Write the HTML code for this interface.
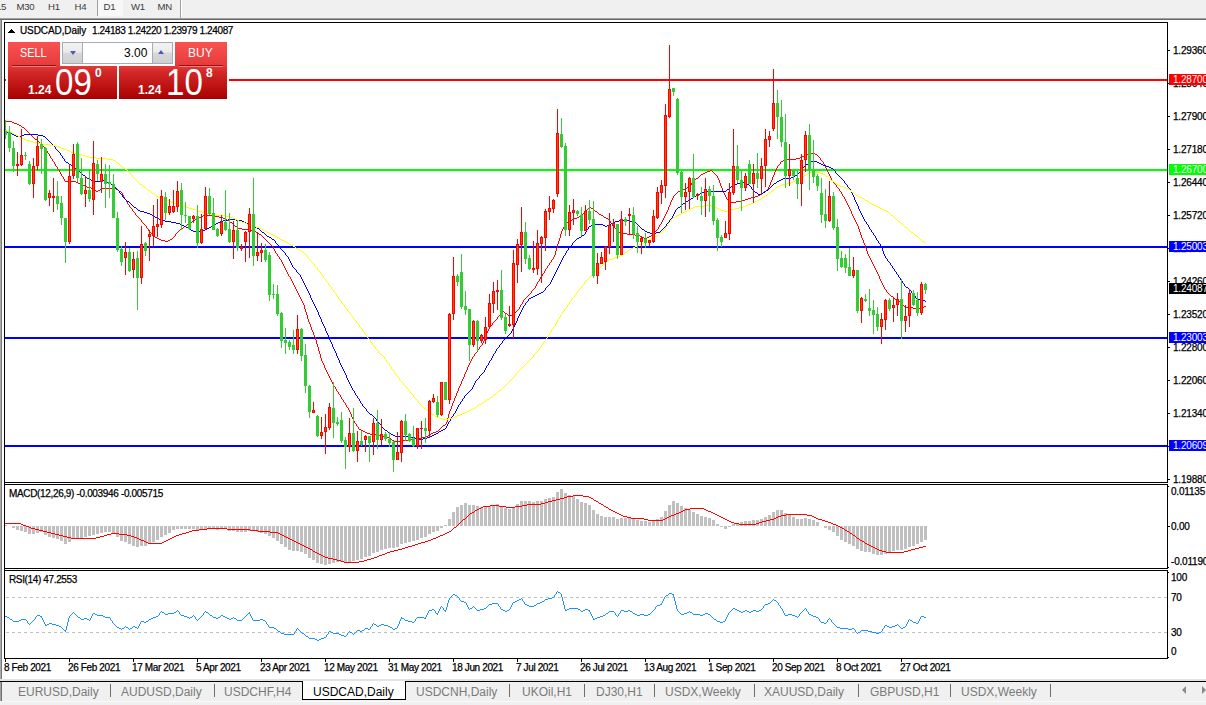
<!DOCTYPE html><html><head><meta charset="utf-8"><title>USDCAD,Daily</title><style>
*{margin:0;padding:0;box-sizing:border-box}
html,body{width:1206px;height:705px;overflow:hidden;background:#fff}
body{position:relative;font-family:"Liberation Sans",sans-serif;font-size:11px;color:#000}
.abs{position:absolute}
.t{position:absolute;white-space:nowrap;line-height:1}
#toolbar{left:0;top:0;width:1206px;height:18px;background:#f0f0f0}
.tb{position:absolute;top:1px;font-size:9.6px;color:#3c3c3c;line-height:12px;white-space:nowrap;letter-spacing:-0.3px}
.ax{position:absolute;left:1173px;-webkit-text-stroke:0.25px #000;font-size:10px;line-height:11px;white-space:nowrap;letter-spacing:-0.2px}
.lab{position:absolute;left:1169px;width:37px;height:11px;color:#fff;font-size:10px;line-height:11px;padding-left:4px;white-space:nowrap;overflow:hidden;letter-spacing:-0.2px}
.dt{position:absolute;top:662px;-webkit-text-stroke:0.25px #000;font-size:10px;line-height:11px;white-space:nowrap;letter-spacing:-0.37px}
.tab{position:absolute;top:685px;font-size:12px;line-height:14px;color:#7a7a7a;white-space:nowrap}
.sep{position:absolute;top:684px;width:1px;height:13px;background:#6e6e6e}
</style></head><body>
<div class="abs" id="toolbar"></div>
<div class="abs" style="left:0;top:18px;width:1206px;height:1px;background:#a0a0a0"></div>
<div class="abs" style="left:0;top:19px;width:1206px;height:1px;background:#696969"></div>
<div class="abs" style="left:98px;top:0;width:25px;height:16px;background:#f8f8f8"></div>
<div class="abs" style="left:97px;top:0;width:1px;height:16px;background:#a0a0a0"></div>
<div class="abs" style="left:180px;top:0;width:1px;height:18px;background:#a0a0a0"></div>
<div class="abs" style="left:181px;top:0;width:1px;height:18px;background:#fff"></div>
<div class="tb" style="left:-4px">15</div>
<div class="tb" style="left:16.5px">M30</div>
<div class="tb" style="left:48px">H1</div>
<div class="tb" style="left:74.5px">H4</div>
<div class="tb" style="left:103.5px">D1</div>
<div class="tb" style="left:131px">W1</div>
<div class="tb" style="left:157.5px">MN</div>
<div class="abs" style="left:0;top:20px;width:2px;height:660px;background:linear-gradient(90deg,#ababab 0,#ababab 50%,#787878 50%)"></div>
<svg class="abs" style="left:0;top:0" width="1206" height="705" viewBox="0 0 1206 705" shape-rendering="crispEdges">
<rect x="1168" y="50" width="2" height="1" fill="#000"/>
<rect x="1168" y="83" width="2" height="1" fill="#000"/>
<rect x="1168" y="116" width="2" height="1" fill="#000"/>
<rect x="1168" y="149" width="2" height="1" fill="#000"/>
<rect x="1168" y="182" width="2" height="1" fill="#000"/>
<rect x="1168" y="215" width="2" height="1" fill="#000"/>
<rect x="1168" y="248" width="2" height="1" fill="#000"/>
<rect x="1168" y="281" width="2" height="1" fill="#000"/>
<rect x="1168" y="314" width="2" height="1" fill="#000"/>
<rect x="1168" y="347" width="2" height="1" fill="#000"/>
<rect x="1168" y="380" width="2" height="1" fill="#000"/>
<rect x="1168" y="413" width="2" height="1" fill="#000"/>
<rect x="1168" y="446" width="2" height="1" fill="#000"/>
<rect x="1168" y="479" width="2" height="1" fill="#000"/>
<rect x="1168" y="526" width="2" height="1" fill="#000"/>
<rect x="1168" y="486" width="1" height="1" fill="#000"/>
<rect x="1168" y="567" width="1" height="1" fill="#000"/>
<rect x="1168" y="572" width="1" height="1" fill="#000"/>
<rect x="1168" y="657" width="1" height="1" fill="#000"/>
<rect x="5" y="659" width="1" height="3" fill="#000"/>
<rect x="69" y="659" width="1" height="3" fill="#000"/>
<rect x="133" y="659" width="1" height="3" fill="#000"/>
<rect x="197" y="659" width="1" height="3" fill="#000"/>
<rect x="261" y="659" width="1" height="3" fill="#000"/>
<rect x="325" y="659" width="1" height="3" fill="#000"/>
<rect x="389" y="659" width="1" height="3" fill="#000"/>
<rect x="453" y="659" width="1" height="3" fill="#000"/>
<rect x="517" y="659" width="1" height="3" fill="#000"/>
<rect x="581" y="659" width="1" height="3" fill="#000"/>
<rect x="645" y="659" width="1" height="3" fill="#000"/>
<rect x="709" y="659" width="1" height="3" fill="#000"/>
<rect x="773" y="659" width="1" height="3" fill="#000"/>
<rect x="837" y="659" width="1" height="3" fill="#000"/>
<rect x="901" y="659" width="1" height="3" fill="#000"/>
<rect x="5" y="79" width="1162" height="2" fill="#ff0000"/>
<rect x="5" y="169" width="1162" height="2" fill="#00ff00"/>
<rect x="5" y="246" width="1162" height="2" fill="#0000ff"/>
<rect x="5" y="337" width="1162" height="2" fill="#0000ff"/>
<rect x="5" y="445" width="1162" height="2" fill="#0000ff"/>
<path fill="#ff0000" d="M5 121h7v1h-7zM12 122h2v1h-2zM14 123h3v1h-3zM17 124h2v1h-2zM19 125h2v1h-2zM21 126h1v1h-1zM22 127h2v1h-2zM24 128h1v1h-1zM25 129h1v1h-1zM26 130h1v1h-1zM27 131h1v1h-1zM28 132h1v1h-1zM29 133h1v1h-1zM30 134h1v1h-1zM31 135h1v1h-1zM32 136h1v1h-1zM33 137h1v1h-1zM34 138h1v1h-1zM35 139h2v1h-2zM37 140h1v1h-1zM38 141h1v1h-1zM39 142h1v1h-1zM40 143h1v1h-1zM41 144h1v1h-1zM42 145h1v1h-1zM43 146h1v1h-1zM44 147h1v1h-1zM45 148h1v1h-1zM46 149h1v2h-1zM47 151h1v2h-1zM48 153h1v1h-1zM809 153h6v1h-6zM806 154h3v1h-3zM815 154h2v1h-2zM49 154h1v2h-1zM804 155h2v1h-2zM817 155h1v1h-1zM802 156h2v1h-2zM818 156h1v1h-1zM50 156h1v2h-1zM800 157h2v1h-2zM819 157h1v1h-1zM51 158h1v1h-1zM796 158h4v1h-4zM820 158h1v2h-1zM785 159h11v1h-11zM52 159h1v2h-1zM783 160h2v1h-2zM821 160h1v1h-1zM53 161h1v1h-1zM781 161h2v1h-2zM822 161h1v1h-1zM54 162h1v2h-1zM780 162h1v2h-1zM823 162h1v2h-1zM779 164h1v1h-1zM55 164h1v2h-1zM824 164h1v2h-1zM778 165h1v1h-1zM56 166h1v1h-1zM777 166h1v2h-1zM825 166h1v2h-1zM57 167h1v2h-1zM776 168h1v2h-1zM826 168h1v2h-1zM58 169h1v1h-1zM710 170h2v1h-2zM59 170h1v2h-1zM775 170h1v2h-1zM827 170h1v2h-1zM707 171h3v1h-3zM712 171h1v1h-1zM705 172h2v1h-2zM713 172h1v1h-1zM60 172h1v2h-1zM828 172h1v2h-1zM774 172h1v3h-1zM703 173h2v1h-2zM714 173h1v1h-1zM701 174h2v1h-2zM715 174h1v1h-1zM61 174h1v2h-1zM829 174h1v2h-1zM700 175h1v1h-1zM716 175h1v1h-1zM773 175h1v2h-1zM62 176h1v1h-1zM699 176h1v1h-1zM717 176h1v2h-1zM830 176h1v2h-1zM698 177h1v1h-1zM63 177h1v2h-1zM772 177h1v3h-1zM696 178h2v1h-2zM718 178h1v2h-1zM831 178h1v2h-1zM695 179h1v1h-1zM64 179h1v2h-1zM694 180h1v1h-1zM832 180h1v1h-1zM771 180h1v2h-1zM719 180h1v3h-1zM65 181h11v1h-11zM693 181h1v1h-1zM833 181h1v2h-1zM76 182h2v1h-2zM692 182h1v1h-1zM770 182h1v3h-1zM78 183h3v1h-3zM834 183h1v1h-1zM691 183h1v2h-1zM720 183h1v3h-1zM81 184h2v1h-2zM835 184h1v1h-1zM83 185h2v1h-2zM690 185h1v1h-1zM769 185h1v2h-1zM836 185h1v2h-1zM85 186h2v1h-2zM689 186h1v1h-1zM721 186h1v2h-1zM87 187h4v1h-4zM687 187h2v1h-2zM837 187h1v1h-1zM768 187h1v2h-1zM91 188h2v1h-2zM102 188h14v1h-14zM685 188h2v1h-2zM838 188h1v1h-1zM722 188h1v3h-1zM93 189h2v1h-2zM100 189h2v1h-2zM116 189h2v1h-2zM682 189h3v1h-3zM767 189h1v1h-1zM839 189h1v2h-1zM95 190h1v1h-1zM98 190h2v1h-2zM118 190h1v1h-1zM680 190h2v1h-2zM766 190h1v1h-1zM96 191h2v1h-2zM119 191h2v1h-2zM678 191h2v1h-2zM764 191h2v1h-2zM840 191h1v1h-1zM723 191h1v2h-1zM121 192h1v1h-1zM677 192h1v1h-1zM763 192h1v1h-1zM841 192h1v2h-1zM676 193h1v1h-1zM762 193h1v1h-1zM122 193h1v2h-1zM724 193h1v2h-1zM675 194h1v1h-1zM760 194h2v1h-2zM842 194h1v2h-1zM674 195h1v1h-1zM758 195h2v1h-2zM123 195h1v2h-1zM725 195h1v2h-1zM755 196h3v1h-3zM843 196h1v1h-1zM673 196h1v2h-1zM751 197h4v1h-4zM124 197h1v2h-1zM726 197h1v2h-1zM844 197h1v2h-1zM748 198h3v1h-3zM672 198h1v2h-1zM125 199h1v1h-1zM727 199h1v1h-1zM745 199h3v1h-3zM845 199h1v2h-1zM728 200h2v1h-2zM741 200h4v1h-4zM126 200h1v2h-1zM671 200h1v2h-1zM730 201h1v1h-1zM736 201h5v1h-5zM846 201h1v2h-1zM731 202h5v1h-5zM127 202h1v2h-1zM670 202h1v3h-1zM847 203h1v2h-1zM128 204h1v1h-1zM129 205h1v2h-1zM669 205h1v2h-1zM848 205h1v2h-1zM130 207h1v1h-1zM589 207h2v1h-2zM849 207h1v2h-1zM668 207h1v3h-1zM131 208h1v1h-1zM588 208h1v1h-1zM591 208h2v1h-2zM587 209h1v1h-1zM593 209h1v1h-1zM132 209h1v2h-1zM850 209h1v2h-1zM586 210h1v1h-1zM594 210h1v1h-1zM667 210h1v2h-1zM133 211h1v1h-1zM585 211h1v1h-1zM595 211h2v1h-2zM851 211h1v3h-1zM134 212h1v1h-1zM584 212h1v1h-1zM597 212h1v1h-1zM666 212h1v2h-1zM583 213h1v1h-1zM598 213h1v1h-1zM135 213h1v2h-1zM582 214h1v1h-1zM599 214h2v1h-2zM665 214h1v2h-1zM852 214h1v2h-1zM136 215h1v1h-1zM203 215h10v1h-10zM580 215h2v1h-2zM601 215h2v1h-2zM137 216h1v1h-1zM201 216h2v1h-2zM213 216h6v1h-6zM579 216h1v1h-1zM603 216h1v1h-1zM664 216h1v2h-1zM853 216h1v2h-1zM138 217h1v1h-1zM199 217h2v1h-2zM219 217h4v1h-4zM577 217h2v1h-2zM604 217h2v1h-2zM139 218h1v1h-1zM197 218h2v1h-2zM223 218h2v1h-2zM574 218h3v1h-3zM606 218h2v1h-2zM663 218h1v2h-1zM854 218h1v2h-1zM140 219h1v1h-1zM195 219h2v1h-2zM225 219h2v1h-2zM572 219h2v1h-2zM608 219h1v1h-1zM193 220h2v1h-2zM227 220h2v1h-2zM570 220h2v1h-2zM609 220h1v1h-1zM141 220h1v2h-1zM662 220h1v2h-1zM855 220h1v2h-1zM192 221h1v1h-1zM229 221h1v1h-1zM568 221h2v1h-2zM610 221h1v2h-1zM142 222h1v1h-1zM190 222h2v1h-2zM230 222h2v1h-2zM567 222h1v1h-1zM661 222h1v2h-1zM856 222h1v2h-1zM143 223h1v1h-1zM189 223h1v1h-1zM232 223h1v1h-1zM611 223h1v1h-1zM566 223h1v2h-1zM144 224h1v1h-1zM187 224h2v1h-2zM233 224h1v1h-1zM612 224h1v1h-1zM660 224h1v1h-1zM857 224h1v2h-1zM145 225h1v1h-1zM186 225h1v1h-1zM234 225h1v1h-1zM565 225h1v1h-1zM613 225h1v1h-1zM659 225h1v2h-1zM184 226h2v1h-2zM235 226h2v1h-2zM564 226h1v1h-1zM146 226h1v2h-1zM614 226h1v2h-1zM858 226h1v3h-1zM183 227h1v1h-1zM237 227h1v1h-1zM563 227h1v2h-1zM658 227h1v2h-1zM147 228h1v1h-1zM182 228h1v1h-1zM238 228h4v1h-4zM615 228h1v1h-1zM180 229h2v1h-2zM242 229h9v1h-9zM657 229h1v1h-1zM148 229h1v2h-1zM562 229h1v2h-1zM616 229h1v2h-1zM859 229h1v3h-1zM179 230h1v1h-1zM251 230h3v1h-3zM656 230h1v1h-1zM149 231h1v1h-1zM178 231h1v1h-1zM254 231h2v1h-2zM617 231h2v1h-2zM655 231h1v1h-1zM561 231h1v3h-1zM150 232h1v1h-1zM177 232h1v1h-1zM256 232h2v1h-2zM619 232h2v1h-2zM654 232h1v1h-1zM860 232h1v3h-1zM151 233h1v1h-1zM176 233h1v1h-1zM258 233h1v1h-1zM621 233h6v1h-6zM653 233h1v1h-1zM152 234h1v1h-1zM259 234h2v1h-2zM627 234h8v1h-8zM652 234h1v1h-1zM175 234h1v2h-1zM560 234h1v4h-1zM153 235h1v1h-1zM261 235h1v1h-1zM635 235h5v1h-5zM651 235h1v1h-1zM861 235h1v3h-1zM154 236h1v1h-1zM174 236h1v1h-1zM262 236h1v1h-1zM640 236h2v1h-2zM649 236h2v1h-2zM155 237h2v1h-2zM173 237h1v1h-1zM263 237h1v1h-1zM642 237h2v1h-2zM647 237h2v1h-2zM157 238h2v1h-2zM172 238h1v1h-1zM264 238h1v1h-1zM644 238h3v1h-3zM862 238h1v2h-1zM559 238h1v3h-1zM159 239h2v1h-2zM170 239h2v1h-2zM265 239h1v1h-1zM161 240h4v1h-4zM168 240h2v1h-2zM266 240h1v1h-1zM863 240h1v3h-1zM165 241h3v1h-3zM267 241h1v1h-1zM558 241h1v3h-1zM268 242h1v1h-1zM269 243h1v1h-1zM864 243h1v2h-1zM270 244h1v1h-1zM557 244h1v4h-1zM271 245h1v1h-1zM865 245h1v3h-1zM272 246h1v1h-1zM273 247h1v2h-1zM556 248h1v3h-1zM866 248h1v3h-1zM274 249h1v2h-1zM275 251h1v2h-1zM867 251h1v3h-1zM555 251h1v4h-1zM276 253h1v1h-1zM277 254h1v2h-1zM868 254h1v2h-1zM554 255h1v2h-1zM278 256h1v1h-1zM869 256h1v2h-1zM279 257h1v2h-1zM553 257h1v2h-1zM870 258h1v2h-1zM280 259h1v1h-1zM552 259h1v1h-1zM281 260h1v2h-1zM551 260h1v2h-1zM871 260h1v2h-1zM550 262h1v1h-1zM282 262h1v2h-1zM872 262h1v2h-1zM549 263h1v2h-1zM283 264h1v2h-1zM873 264h1v2h-1zM548 265h1v1h-1zM284 266h1v2h-1zM547 266h1v2h-1zM874 266h1v2h-1zM546 268h1v1h-1zM285 268h1v2h-1zM875 268h1v2h-1zM545 269h1v2h-1zM286 270h1v2h-1zM876 270h1v2h-1zM544 271h1v2h-1zM287 272h1v2h-1zM877 272h1v2h-1zM543 273h1v1h-1zM288 274h1v2h-1zM542 274h1v2h-1zM878 274h1v2h-1zM289 276h1v1h-1zM541 276h1v1h-1zM879 276h1v3h-1zM290 277h1v2h-1zM540 277h1v2h-1zM291 279h1v2h-1zM539 279h1v2h-1zM880 279h1v2h-1zM538 281h1v1h-1zM292 281h1v2h-1zM881 281h1v2h-1zM537 282h1v2h-1zM293 283h1v2h-1zM882 283h1v2h-1zM536 284h1v2h-1zM294 285h1v2h-1zM883 285h1v2h-1zM535 286h1v2h-1zM295 287h1v2h-1zM884 287h1v2h-1zM534 288h1v1h-1zM533 289h1v1h-1zM885 289h1v1h-1zM296 289h1v2h-1zM532 290h1v1h-1zM886 290h1v2h-1zM297 291h1v2h-1zM531 291h1v2h-1zM887 292h1v1h-1zM530 293h1v1h-1zM888 293h1v1h-1zM298 293h1v2h-1zM529 294h1v1h-1zM889 294h1v1h-1zM528 295h1v1h-1zM890 295h1v1h-1zM299 295h1v2h-1zM527 296h1v1h-1zM891 296h2v1h-2zM526 297h1v1h-1zM893 297h1v1h-1zM300 297h1v2h-1zM525 298h1v1h-1zM894 298h1v1h-1zM524 299h1v1h-1zM895 299h2v1h-2zM301 299h1v2h-1zM897 300h2v1h-2zM523 300h1v2h-1zM899 301h1v1h-1zM302 301h1v2h-1zM900 302h1v1h-1zM522 302h1v2h-1zM901 303h1v1h-1zM303 303h1v2h-1zM521 304h1v1h-1zM902 304h1v1h-1zM903 305h1v1h-1zM520 305h1v2h-1zM304 305h1v4h-1zM904 306h2v1h-2zM924 306h2v1h-2zM906 307h7v1h-7zM921 307h3v1h-3zM519 307h1v2h-1zM913 308h8v1h-8zM518 309h1v1h-1zM305 309h1v3h-1zM517 310h1v1h-1zM503 311h1v1h-1zM516 311h1v1h-1zM502 312h1v1h-1zM504 312h1v1h-1zM515 312h1v1h-1zM306 312h1v3h-1zM501 313h1v1h-1zM505 313h2v1h-2zM514 313h1v1h-1zM500 314h1v1h-1zM507 314h1v1h-1zM513 314h1v1h-1zM499 315h1v1h-1zM508 315h5v1h-5zM307 315h1v4h-1zM498 316h1v1h-1zM497 317h1v2h-1zM496 319h1v1h-1zM308 319h1v3h-1zM495 320h1v1h-1zM494 321h1v1h-1zM493 322h1v1h-1zM309 322h1v2h-1zM492 323h1v2h-1zM310 324h1v3h-1zM491 325h1v1h-1zM490 326h1v1h-1zM489 327h1v2h-1zM311 327h1v3h-1zM488 329h1v2h-1zM312 330h1v2h-1zM487 331h1v2h-1zM313 332h1v3h-1zM486 333h1v3h-1zM314 335h1v2h-1zM485 336h1v3h-1zM315 337h1v3h-1zM484 339h1v2h-1zM316 340h1v4h-1zM483 341h1v2h-1zM482 343h1v2h-1zM317 344h1v3h-1zM481 345h1v1h-1zM480 346h1v1h-1zM479 347h1v2h-1zM318 347h1v4h-1zM478 349h1v1h-1zM477 350h1v2h-1zM319 351h1v3h-1zM476 352h1v1h-1zM475 353h1v1h-1zM474 354h1v2h-1zM320 354h1v4h-1zM473 356h1v1h-1zM472 357h1v2h-1zM321 358h1v3h-1zM471 359h1v2h-1zM322 361h1v2h-1zM470 361h1v2h-1zM323 363h1v2h-1zM469 363h1v2h-1zM468 365h1v2h-1zM324 365h1v3h-1zM467 367h1v3h-1zM325 368h1v2h-1zM326 370h1v2h-1zM466 370h1v2h-1zM327 372h1v2h-1zM465 372h1v2h-1zM328 374h1v2h-1zM464 374h1v3h-1zM329 376h1v2h-1zM463 377h1v2h-1zM330 378h1v2h-1zM462 379h1v2h-1zM331 380h1v2h-1zM461 381h1v3h-1zM332 382h1v2h-1zM333 384h1v2h-1zM460 384h1v2h-1zM334 386h1v1h-1zM459 386h1v2h-1zM335 387h1v2h-1zM458 388h1v3h-1zM336 389h1v2h-1zM337 391h1v1h-1zM457 391h1v2h-1zM338 392h1v2h-1zM456 393h1v3h-1zM339 394h1v1h-1zM340 395h1v2h-1zM455 396h1v2h-1zM341 397h1v2h-1zM454 398h1v3h-1zM342 399h1v1h-1zM343 400h1v2h-1zM453 401h1v2h-1zM344 402h1v1h-1zM345 403h1v2h-1zM452 403h1v3h-1zM346 405h1v2h-1zM451 406h1v3h-1zM347 407h1v1h-1zM348 408h1v2h-1zM450 409h1v2h-1zM349 410h1v2h-1zM449 411h1v3h-1zM350 412h1v2h-1zM351 414h1v3h-1zM448 414h1v4h-1zM352 417h1v2h-1zM447 418h1v4h-1zM353 419h1v2h-1zM354 421h1v2h-1zM446 422h1v2h-1zM355 423h1v1h-1zM445 424h1v1h-1zM356 424h1v2h-1zM443 425h2v1h-2zM357 426h1v1h-1zM442 426h1v1h-1zM441 427h1v1h-1zM358 427h1v2h-1zM440 428h1v1h-1zM359 429h2v1h-2zM439 429h1v1h-1zM361 430h2v1h-2zM438 430h1v1h-1zM363 431h2v1h-2zM436 431h2v1h-2zM365 432h2v1h-2zM433 432h3v1h-3zM367 433h3v1h-3zM431 433h2v1h-2zM370 434h8v1h-8zM429 434h2v1h-2zM378 435h4v1h-4zM428 435h1v1h-1zM382 436h4v1h-4zM426 436h2v1h-2zM386 437h3v1h-3zM422 437h4v1h-4zM389 438h2v1h-2zM415 438h7v1h-7zM391 439h1v1h-1zM409 439h6v1h-6zM392 440h2v1h-2zM403 440h6v1h-6zM394 441h9v1h-9z"/>
<path fill="#0000ff" d="M5 131h2v1h-2zM7 132h3v1h-3zM10 133h2v1h-2zM12 134h2v1h-2zM24 134h14v1h-14zM14 135h2v1h-2zM22 135h2v1h-2zM38 135h5v1h-5zM16 136h6v1h-6zM43 136h2v1h-2zM45 137h1v1h-1zM46 138h1v1h-1zM47 139h1v1h-1zM48 140h1v1h-1zM49 141h1v1h-1zM50 142h1v1h-1zM51 143h1v1h-1zM52 144h1v1h-1zM53 145h1v1h-1zM54 146h1v1h-1zM55 147h1v2h-1zM56 149h1v1h-1zM57 150h1v1h-1zM58 151h1v1h-1zM59 152h1v1h-1zM60 153h1v2h-1zM61 155h1v1h-1zM62 156h1v2h-1zM63 158h1v1h-1zM64 159h1v2h-1zM65 161h1v1h-1zM810 161h7v1h-7zM66 162h2v1h-2zM809 162h1v1h-1zM817 162h2v1h-2zM68 163h1v1h-1zM808 163h1v1h-1zM819 163h2v1h-2zM69 164h2v1h-2zM806 164h2v1h-2zM821 164h2v1h-2zM71 165h1v1h-1zM805 165h1v1h-1zM823 165h3v1h-3zM72 166h1v1h-1zM804 166h1v1h-1zM826 166h3v1h-3zM73 167h2v1h-2zM803 167h1v1h-1zM829 167h2v1h-2zM75 168h1v1h-1zM802 168h1v1h-1zM831 168h2v1h-2zM76 169h1v1h-1zM801 169h1v1h-1zM833 169h1v1h-1zM77 170h1v1h-1zM834 170h1v1h-1zM800 170h1v2h-1zM78 171h2v1h-2zM835 171h1v2h-1zM80 172h1v1h-1zM799 172h1v1h-1zM81 173h1v1h-1zM798 173h1v1h-1zM836 173h1v1h-1zM82 174h1v1h-1zM797 174h1v1h-1zM837 174h1v1h-1zM83 175h2v1h-2zM795 175h2v1h-2zM838 175h1v1h-1zM85 176h1v1h-1zM793 176h2v1h-2zM839 176h1v1h-1zM86 177h1v1h-1zM791 177h2v1h-2zM840 177h1v1h-1zM87 178h2v1h-2zM783 178h8v1h-8zM841 178h1v1h-1zM89 179h2v1h-2zM781 179h2v1h-2zM842 179h1v1h-1zM91 180h4v1h-4zM100 180h5v1h-5zM779 180h2v1h-2zM843 180h1v1h-1zM95 181h5v1h-5zM105 181h2v1h-2zM777 181h2v1h-2zM844 181h1v2h-1zM107 182h2v1h-2zM740 182h4v1h-4zM776 182h1v1h-1zM109 183h2v1h-2zM737 183h3v1h-3zM744 183h3v1h-3zM774 183h2v1h-2zM845 183h1v1h-1zM111 184h1v1h-1zM735 184h2v1h-2zM747 184h2v1h-2zM773 184h1v1h-1zM846 184h1v1h-1zM112 185h1v1h-1zM733 185h2v1h-2zM749 185h1v1h-1zM772 185h1v1h-1zM847 185h1v2h-1zM113 186h2v1h-2zM731 186h2v1h-2zM750 186h1v1h-1zM771 186h1v1h-1zM115 187h1v1h-1zM730 187h1v1h-1zM770 187h1v1h-1zM848 187h1v1h-1zM751 187h1v2h-1zM116 188h1v1h-1zM729 188h1v1h-1zM769 188h1v1h-1zM849 188h1v1h-1zM117 189h1v1h-1zM727 189h2v1h-2zM752 189h1v1h-1zM768 189h1v1h-1zM850 189h1v2h-1zM118 190h1v1h-1zM726 190h1v1h-1zM753 190h1v1h-1zM766 190h2v1h-2zM704 191h22v1h-22zM754 191h1v1h-1zM765 191h1v1h-1zM119 191h1v2h-1zM851 191h1v2h-1zM702 192h2v1h-2zM755 192h2v1h-2zM763 192h2v1h-2zM120 193h1v1h-1zM700 193h2v1h-2zM757 193h1v1h-1zM761 193h2v1h-2zM852 193h1v2h-1zM121 194h1v1h-1zM698 194h2v1h-2zM758 194h3v1h-3zM696 195h2v1h-2zM122 195h1v2h-1zM853 195h1v2h-1zM694 196h2v1h-2zM123 197h1v1h-1zM693 197h1v1h-1zM854 197h1v3h-1zM124 198h1v1h-1zM691 198h2v1h-2zM125 199h1v1h-1zM689 199h2v1h-2zM126 200h1v1h-1zM688 200h1v1h-1zM855 200h1v2h-1zM127 201h2v1h-2zM686 201h2v1h-2zM129 202h1v1h-1zM685 202h1v1h-1zM856 202h1v2h-1zM130 203h1v1h-1zM683 203h2v1h-2zM131 204h1v1h-1zM682 204h1v1h-1zM857 204h1v2h-1zM132 205h1v1h-1zM681 205h1v1h-1zM133 206h1v1h-1zM680 206h1v1h-1zM858 206h1v3h-1zM134 207h2v1h-2zM678 207h2v1h-2zM136 208h1v1h-1zM677 208h1v1h-1zM137 209h1v1h-1zM676 209h1v1h-1zM859 209h1v2h-1zM138 210h2v1h-2zM675 210h1v2h-1zM140 211h4v1h-4zM860 211h1v2h-1zM144 212h3v1h-3zM674 212h1v2h-1zM147 213h3v1h-3zM861 213h1v2h-1zM150 214h2v1h-2zM673 214h1v2h-1zM152 215h1v1h-1zM862 215h1v2h-1zM153 216h2v1h-2zM672 216h1v2h-1zM155 217h2v1h-2zM863 217h1v2h-1zM157 218h2v1h-2zM671 218h1v1h-1zM159 219h2v1h-2zM228 219h8v1h-8zM670 219h1v1h-1zM864 219h1v2h-1zM161 220h4v1h-4zM223 220h5v1h-5zM236 220h6v1h-6zM619 220h11v1h-11zM669 220h1v2h-1zM165 221h6v1h-6zM220 221h3v1h-3zM242 221h2v1h-2zM615 221h4v1h-4zM630 221h4v1h-4zM865 221h1v1h-1zM171 222h5v1h-5zM218 222h2v1h-2zM244 222h2v1h-2zM613 222h2v1h-2zM634 222h2v1h-2zM668 222h1v1h-1zM866 222h1v2h-1zM176 223h4v1h-4zM216 223h2v1h-2zM246 223h3v1h-3zM611 223h2v1h-2zM636 223h1v1h-1zM667 223h1v1h-1zM180 224h2v1h-2zM214 224h2v1h-2zM249 224h2v1h-2zM594 224h9v1h-9zM609 224h2v1h-2zM637 224h1v1h-1zM867 224h1v1h-1zM666 224h1v2h-1zM182 225h2v1h-2zM213 225h1v1h-1zM251 225h2v1h-2zM591 225h3v1h-3zM603 225h2v1h-2zM607 225h2v1h-2zM638 225h1v1h-1zM868 225h1v2h-1zM184 226h2v1h-2zM211 226h2v1h-2zM253 226h2v1h-2zM589 226h2v1h-2zM605 226h2v1h-2zM639 226h1v1h-1zM665 226h1v1h-1zM186 227h2v1h-2zM209 227h2v1h-2zM255 227h2v1h-2zM640 227h1v1h-1zM664 227h1v1h-1zM588 227h1v2h-1zM869 227h1v2h-1zM188 228h1v1h-1zM207 228h2v1h-2zM257 228h2v1h-2zM641 228h1v1h-1zM663 228h1v1h-1zM189 229h2v1h-2zM205 229h2v1h-2zM259 229h1v1h-1zM587 229h1v1h-1zM642 229h2v1h-2zM662 229h1v1h-1zM870 229h1v1h-1zM191 230h2v1h-2zM202 230h3v1h-3zM260 230h1v1h-1zM644 230h1v1h-1zM661 230h1v1h-1zM586 230h1v2h-1zM871 230h1v2h-1zM193 231h9v1h-9zM261 231h1v1h-1zM645 231h2v1h-2zM660 231h1v1h-1zM262 232h2v1h-2zM647 232h3v1h-3zM656 232h4v1h-4zM872 232h1v1h-1zM585 232h1v2h-1zM264 233h1v1h-1zM650 233h6v1h-6zM873 233h1v2h-1zM265 234h1v1h-1zM584 234h1v1h-1zM266 235h1v1h-1zM582 235h2v1h-2zM874 235h1v1h-1zM267 236h2v1h-2zM581 236h1v1h-1zM875 236h1v2h-1zM269 237h2v1h-2zM579 237h2v1h-2zM271 238h1v1h-1zM577 238h2v1h-2zM876 238h1v2h-1zM272 239h2v1h-2zM576 239h1v1h-1zM274 240h1v1h-1zM575 240h1v1h-1zM877 240h1v1h-1zM574 241h1v1h-1zM275 241h1v2h-1zM878 241h1v2h-1zM573 242h1v1h-1zM276 243h1v1h-1zM879 243h1v1h-1zM572 243h1v2h-1zM277 244h1v1h-1zM880 244h1v2h-1zM571 245h1v1h-1zM278 245h1v2h-1zM570 246h1v1h-1zM881 246h1v2h-1zM279 247h1v1h-1zM569 247h1v1h-1zM280 248h1v1h-1zM568 248h1v2h-1zM882 248h1v3h-1zM281 249h1v1h-1zM282 250h1v1h-1zM567 250h1v1h-1zM283 251h1v1h-1zM566 251h1v2h-1zM883 251h1v3h-1zM284 252h1v1h-1zM285 253h1v2h-1zM565 253h1v2h-1zM884 254h1v2h-1zM286 255h1v1h-1zM564 255h1v1h-1zM287 256h1v1h-1zM563 256h1v2h-1zM885 256h1v2h-1zM288 257h1v2h-1zM886 258h1v1h-1zM562 258h1v2h-1zM289 259h1v2h-1zM887 259h1v2h-1zM561 260h1v2h-1zM888 261h1v1h-1zM290 261h1v2h-1zM889 262h1v1h-1zM560 262h1v2h-1zM291 263h1v2h-1zM890 263h1v2h-1zM559 264h1v2h-1zM891 265h1v1h-1zM292 265h1v2h-1zM558 266h1v2h-1zM892 266h1v2h-1zM293 267h1v1h-1zM294 268h1v1h-1zM893 268h1v1h-1zM557 268h1v2h-1zM295 269h1v1h-1zM894 269h1v2h-1zM296 270h1v2h-1zM556 270h1v2h-1zM895 271h1v1h-1zM297 272h1v1h-1zM555 272h1v2h-1zM896 272h1v2h-1zM298 273h1v1h-1zM299 274h1v1h-1zM897 274h1v1h-1zM554 274h1v2h-1zM300 275h1v2h-1zM898 275h1v2h-1zM553 276h1v2h-1zM899 277h1v1h-1zM301 277h1v2h-1zM552 278h1v2h-1zM900 278h1v2h-1zM302 279h1v2h-1zM901 280h1v1h-1zM551 280h1v2h-1zM303 281h1v2h-1zM902 281h1v2h-1zM550 282h1v2h-1zM903 283h1v1h-1zM304 283h1v2h-1zM549 284h1v1h-1zM904 284h1v2h-1zM548 285h1v1h-1zM305 285h1v2h-1zM547 286h1v1h-1zM905 286h1v1h-1zM546 287h1v1h-1zM906 287h2v1h-2zM306 287h1v2h-1zM908 288h1v1h-1zM545 288h1v2h-1zM909 289h1v1h-1zM307 289h1v2h-1zM544 290h1v1h-1zM910 290h1v1h-1zM543 291h1v1h-1zM308 291h1v2h-1zM911 291h1v2h-1zM541 292h2v1h-2zM539 293h2v1h-2zM912 293h1v1h-1zM309 293h1v2h-1zM537 294h2v1h-2zM913 294h1v1h-1zM535 295h2v1h-2zM914 295h1v1h-1zM310 295h1v3h-1zM533 296h2v1h-2zM915 296h1v2h-1zM531 297h2v1h-2zM529 298h2v1h-2zM916 298h1v1h-1zM311 298h1v2h-1zM917 299h6v1h-6zM528 299h1v2h-1zM923 300h2v1h-2zM312 300h1v2h-1zM527 301h1v1h-1zM925 301h1v1h-1zM526 302h1v1h-1zM313 302h1v2h-1zM525 303h1v2h-1zM314 304h1v2h-1zM524 305h1v1h-1zM315 306h1v2h-1zM523 306h1v2h-1zM316 308h1v2h-1zM522 308h1v2h-1zM317 310h1v2h-1zM521 310h1v2h-1zM520 312h1v2h-1zM318 312h1v3h-1zM519 314h1v2h-1zM319 315h1v2h-1zM518 316h1v2h-1zM320 317h1v2h-1zM517 318h1v3h-1zM321 319h1v3h-1zM516 321h1v2h-1zM322 322h1v2h-1zM515 323h1v2h-1zM323 324h1v2h-1zM514 325h1v2h-1zM324 326h1v2h-1zM513 327h1v2h-1zM325 328h1v3h-1zM512 329h1v2h-1zM326 331h1v2h-1zM511 331h1v2h-1zM510 333h1v1h-1zM327 333h1v2h-1zM509 334h1v1h-1zM508 335h1v1h-1zM328 335h1v2h-1zM507 336h1v1h-1zM506 337h1v1h-1zM329 337h1v3h-1zM505 338h1v1h-1zM504 339h1v1h-1zM503 340h1v1h-1zM330 340h1v2h-1zM502 341h1v2h-1zM331 342h1v2h-1zM501 343h1v1h-1zM500 344h1v1h-1zM332 344h1v3h-1zM499 345h1v2h-1zM498 347h1v1h-1zM333 347h1v2h-1zM497 348h1v1h-1zM334 349h1v2h-1zM496 349h1v2h-1zM335 351h1v2h-1zM495 351h1v2h-1zM494 353h1v1h-1zM336 353h1v3h-1zM493 354h1v2h-1zM337 356h1v2h-1zM492 356h1v2h-1zM338 358h1v2h-1zM491 358h1v2h-1zM490 360h1v1h-1zM339 360h1v3h-1zM489 361h1v2h-1zM340 363h1v2h-1zM488 363h1v2h-1zM487 365h1v1h-1zM341 365h1v2h-1zM486 366h1v2h-1zM342 367h1v2h-1zM485 368h1v2h-1zM343 369h1v2h-1zM484 370h1v2h-1zM344 371h1v2h-1zM483 372h1v1h-1zM482 373h1v1h-1zM345 373h1v2h-1zM481 374h1v1h-1zM480 375h1v1h-1zM346 375h1v3h-1zM479 376h1v2h-1zM478 378h1v1h-1zM347 378h1v2h-1zM477 379h1v1h-1zM476 380h1v1h-1zM348 380h1v2h-1zM475 381h1v2h-1zM349 382h1v2h-1zM474 383h1v2h-1zM350 384h1v2h-1zM473 385h1v2h-1zM351 386h1v2h-1zM472 387h1v2h-1zM352 388h1v2h-1zM471 389h1v1h-1zM353 390h1v1h-1zM470 390h1v1h-1zM469 391h1v1h-1zM354 391h1v2h-1zM468 392h1v1h-1zM467 393h1v1h-1zM355 393h1v2h-1zM466 394h1v1h-1zM356 395h1v1h-1zM465 395h1v1h-1zM357 396h1v2h-1zM464 396h1v2h-1zM358 398h1v1h-1zM463 398h1v1h-1zM359 399h1v2h-1zM462 399h1v2h-1zM461 401h1v1h-1zM360 401h1v2h-1zM460 402h1v2h-1zM361 403h1v1h-1zM459 404h1v1h-1zM362 404h1v2h-1zM458 405h1v2h-1zM363 406h1v1h-1zM364 407h1v1h-1zM457 407h1v2h-1zM365 408h1v1h-1zM366 409h1v2h-1zM456 409h1v2h-1zM367 411h1v1h-1zM455 411h1v2h-1zM368 412h1v1h-1zM369 413h1v1h-1zM454 413h1v1h-1zM370 414h2v1h-2zM453 414h1v2h-1zM372 415h1v1h-1zM373 416h1v1h-1zM452 416h1v1h-1zM374 417h1v1h-1zM451 417h1v2h-1zM375 418h1v1h-1zM376 419h1v2h-1zM450 419h1v2h-1zM377 421h1v1h-1zM449 421h1v1h-1zM378 422h1v1h-1zM448 422h1v2h-1zM379 423h1v1h-1zM380 424h1v1h-1zM447 424h1v2h-1zM381 425h1v2h-1zM446 426h1v2h-1zM382 427h1v1h-1zM383 428h1v1h-1zM445 428h1v1h-1zM384 429h1v1h-1zM443 429h2v1h-2zM385 430h2v1h-2zM441 430h2v1h-2zM387 431h1v1h-1zM439 431h2v1h-2zM388 432h1v1h-1zM438 432h1v1h-1zM389 433h2v1h-2zM436 433h2v1h-2zM391 434h2v1h-2zM434 434h2v1h-2zM393 435h2v1h-2zM432 435h2v1h-2zM395 436h14v1h-14zM430 436h2v1h-2zM409 437h6v1h-6zM427 437h3v1h-3zM415 438h4v1h-4zM423 438h4v1h-4zM419 439h4v1h-4z"/>
<path fill="#ffff00" d="M5 130h2v1h-2zM7 131h2v1h-2zM9 132h3v1h-3zM12 133h2v1h-2zM14 134h2v1h-2zM16 135h2v1h-2zM18 136h2v1h-2zM20 137h2v1h-2zM22 138h2v1h-2zM24 139h2v1h-2zM26 140h3v1h-3zM29 141h4v1h-4zM33 142h4v1h-4zM37 143h5v1h-5zM42 144h8v1h-8zM50 145h6v1h-6zM56 146h3v1h-3zM59 147h2v1h-2zM61 148h3v1h-3zM64 149h3v1h-3zM67 150h2v1h-2zM69 151h2v1h-2zM71 152h2v1h-2zM73 153h4v1h-4zM77 154h4v1h-4zM81 155h4v1h-4zM85 156h4v1h-4zM89 157h7v1h-7zM96 158h11v1h-11zM107 159h6v1h-6zM113 160h2v1h-2zM115 161h1v1h-1zM116 162h2v1h-2zM118 163h1v1h-1zM119 164h1v1h-1zM120 165h1v1h-1zM121 166h2v1h-2zM123 167h1v1h-1zM124 168h1v1h-1zM125 169h2v1h-2zM127 170h1v1h-1zM128 171h1v1h-1zM129 172h1v1h-1zM810 172h10v1h-10zM130 173h1v1h-1zM808 173h2v1h-2zM820 173h3v1h-3zM131 174h1v1h-1zM806 174h2v1h-2zM823 174h2v1h-2zM804 175h2v1h-2zM825 175h1v1h-1zM132 175h1v2h-1zM802 176h2v1h-2zM826 176h2v1h-2zM133 177h1v1h-1zM800 177h2v1h-2zM828 177h1v1h-1zM134 178h1v1h-1zM798 178h2v1h-2zM829 178h1v1h-1zM135 179h1v1h-1zM797 179h1v1h-1zM830 179h1v1h-1zM136 180h1v1h-1zM795 180h2v1h-2zM831 180h2v1h-2zM137 181h1v1h-1zM793 181h2v1h-2zM833 181h1v1h-1zM138 182h1v1h-1zM791 182h2v1h-2zM834 182h1v1h-1zM139 183h1v1h-1zM787 183h4v1h-4zM835 183h2v1h-2zM140 184h2v1h-2zM782 184h5v1h-5zM837 184h1v1h-1zM142 185h1v1h-1zM780 185h2v1h-2zM838 185h2v1h-2zM143 186h1v1h-1zM778 186h2v1h-2zM840 186h3v1h-3zM144 187h2v1h-2zM776 187h2v1h-2zM843 187h3v1h-3zM146 188h1v1h-1zM775 188h1v1h-1zM846 188h2v1h-2zM147 189h1v1h-1zM774 189h1v1h-1zM848 189h2v1h-2zM148 190h2v1h-2zM772 190h2v1h-2zM850 190h1v1h-1zM150 191h1v1h-1zM771 191h1v1h-1zM851 191h1v1h-1zM151 192h1v1h-1zM769 192h2v1h-2zM852 192h2v1h-2zM152 193h2v1h-2zM768 193h1v1h-1zM854 193h1v1h-1zM154 194h1v1h-1zM767 194h1v1h-1zM855 194h1v1h-1zM155 195h1v1h-1zM765 195h2v1h-2zM856 195h2v1h-2zM156 196h2v1h-2zM764 196h1v1h-1zM858 196h2v1h-2zM158 197h2v1h-2zM762 197h2v1h-2zM860 197h2v1h-2zM160 198h4v1h-4zM761 198h1v1h-1zM862 198h2v1h-2zM164 199h3v1h-3zM759 199h2v1h-2zM864 199h1v1h-1zM167 200h2v1h-2zM757 200h2v1h-2zM865 200h2v1h-2zM169 201h2v1h-2zM755 201h2v1h-2zM867 201h2v1h-2zM171 202h2v1h-2zM753 202h2v1h-2zM869 202h1v1h-1zM173 203h3v1h-3zM751 203h2v1h-2zM870 203h2v1h-2zM176 204h3v1h-3zM748 204h3v1h-3zM872 204h2v1h-2zM179 205h2v1h-2zM704 205h7v1h-7zM746 205h2v1h-2zM874 205h2v1h-2zM181 206h4v1h-4zM695 206h9v1h-9zM711 206h4v1h-4zM743 206h3v1h-3zM876 206h2v1h-2zM185 207h4v1h-4zM693 207h2v1h-2zM715 207h2v1h-2zM739 207h4v1h-4zM878 207h2v1h-2zM189 208h4v1h-4zM691 208h2v1h-2zM717 208h2v1h-2zM735 208h4v1h-4zM880 208h2v1h-2zM193 209h3v1h-3zM689 209h2v1h-2zM719 209h2v1h-2zM731 209h4v1h-4zM882 209h2v1h-2zM196 210h2v1h-2zM687 210h2v1h-2zM721 210h3v1h-3zM728 210h3v1h-3zM884 210h2v1h-2zM198 211h4v1h-4zM685 211h2v1h-2zM724 211h4v1h-4zM886 211h2v1h-2zM202 212h3v1h-3zM683 212h2v1h-2zM888 212h1v1h-1zM205 213h4v1h-4zM681 213h2v1h-2zM889 213h1v1h-1zM209 214h5v1h-5zM679 214h2v1h-2zM890 214h1v1h-1zM214 215h12v1h-12zM677 215h2v1h-2zM891 215h2v1h-2zM226 216h4v1h-4zM675 216h2v1h-2zM893 216h1v1h-1zM230 217h3v1h-3zM673 217h2v1h-2zM894 217h1v1h-1zM233 218h2v1h-2zM672 218h1v1h-1zM895 218h1v1h-1zM235 219h2v1h-2zM896 219h1v1h-1zM671 219h1v2h-1zM237 220h2v1h-2zM897 220h1v1h-1zM239 221h3v1h-3zM670 221h1v1h-1zM898 221h2v1h-2zM242 222h3v1h-3zM669 222h1v1h-1zM900 222h1v1h-1zM245 223h2v1h-2zM901 223h1v1h-1zM668 223h1v2h-1zM247 224h3v1h-3zM902 224h1v1h-1zM250 225h3v1h-3zM667 225h1v1h-1zM903 225h1v1h-1zM253 226h3v1h-3zM666 226h1v1h-1zM904 226h1v1h-1zM256 227h3v1h-3zM905 227h2v1h-2zM665 227h1v2h-1zM259 228h2v1h-2zM907 228h1v1h-1zM261 229h2v1h-2zM664 229h1v1h-1zM908 229h1v1h-1zM263 230h2v1h-2zM663 230h1v1h-1zM909 230h1v1h-1zM265 231h2v1h-2zM662 231h1v1h-1zM910 231h1v1h-1zM267 232h2v1h-2zM660 232h2v1h-2zM911 232h2v1h-2zM269 233h2v1h-2zM659 233h1v1h-1zM913 233h1v1h-1zM271 234h2v1h-2zM658 234h1v1h-1zM914 234h1v1h-1zM273 235h2v1h-2zM657 235h1v1h-1zM915 235h1v1h-1zM275 236h2v1h-2zM655 236h2v1h-2zM916 236h2v1h-2zM277 237h2v1h-2zM653 237h2v1h-2zM918 237h1v1h-1zM279 238h1v1h-1zM651 238h2v1h-2zM919 238h1v1h-1zM280 239h2v1h-2zM649 239h2v1h-2zM920 239h1v1h-1zM282 240h2v1h-2zM648 240h1v1h-1zM921 240h1v1h-1zM284 241h2v1h-2zM646 241h2v1h-2zM922 241h2v1h-2zM286 242h2v1h-2zM644 242h2v1h-2zM924 242h1v1h-1zM288 243h1v1h-1zM642 243h2v1h-2zM925 243h1v1h-1zM289 244h2v1h-2zM639 244h3v1h-3zM291 245h2v1h-2zM637 245h2v1h-2zM293 246h2v1h-2zM635 246h2v1h-2zM295 247h1v1h-1zM633 247h2v1h-2zM296 248h2v1h-2zM631 248h2v1h-2zM298 249h2v1h-2zM629 249h2v1h-2zM300 250h1v1h-1zM628 250h1v1h-1zM301 251h2v1h-2zM627 251h1v1h-1zM303 252h1v1h-1zM625 252h2v1h-2zM304 253h1v1h-1zM624 253h1v1h-1zM305 254h1v1h-1zM622 254h2v1h-2zM306 255h1v1h-1zM620 255h2v1h-2zM618 256h2v1h-2zM307 256h1v2h-1zM615 257h3v1h-3zM308 258h1v1h-1zM613 258h2v1h-2zM309 259h1v1h-1zM609 259h4v1h-4zM310 260h1v1h-1zM606 260h3v1h-3zM311 261h1v1h-1zM605 261h1v1h-1zM312 262h1v1h-1zM604 262h1v1h-1zM313 263h1v1h-1zM603 263h1v2h-1zM314 264h1v2h-1zM602 265h1v1h-1zM315 266h1v1h-1zM601 266h1v1h-1zM316 267h1v1h-1zM600 267h1v1h-1zM599 268h1v1h-1zM317 268h1v2h-1zM598 269h1v1h-1zM318 270h1v1h-1zM596 270h2v1h-2zM319 271h1v1h-1zM595 271h1v1h-1zM594 272h1v1h-1zM320 272h1v2h-1zM593 273h1v1h-1zM321 274h1v1h-1zM592 274h1v1h-1zM322 275h1v1h-1zM591 275h1v1h-1zM590 276h1v1h-1zM323 276h1v2h-1zM589 277h1v1h-1zM324 278h1v1h-1zM588 278h1v1h-1zM325 279h1v1h-1zM587 279h1v1h-1zM586 280h1v1h-1zM326 280h1v2h-1zM585 281h1v1h-1zM327 282h1v1h-1zM584 282h1v2h-1zM328 283h1v2h-1zM583 284h1v1h-1zM329 285h1v1h-1zM582 285h1v1h-1zM330 286h1v1h-1zM581 286h1v2h-1zM331 287h1v2h-1zM580 288h1v1h-1zM332 289h1v1h-1zM579 289h1v1h-1zM578 290h1v1h-1zM333 290h1v2h-1zM577 291h1v2h-1zM334 292h1v1h-1zM335 293h1v1h-1zM576 293h1v1h-1zM575 294h1v1h-1zM336 294h1v2h-1zM574 295h1v2h-1zM337 296h1v1h-1zM573 297h1v1h-1zM338 297h1v2h-1zM572 298h1v1h-1zM339 299h1v1h-1zM571 299h1v2h-1zM340 300h1v1h-1zM570 301h1v1h-1zM341 301h1v2h-1zM569 302h1v2h-1zM342 303h1v1h-1zM343 304h1v1h-1zM568 304h1v1h-1zM344 305h1v2h-1zM567 305h1v2h-1zM345 307h1v1h-1zM566 307h1v1h-1zM346 308h1v1h-1zM565 308h1v1h-1zM347 309h1v2h-1zM564 309h1v2h-1zM348 311h1v1h-1zM563 311h1v1h-1zM349 312h1v1h-1zM562 312h1v2h-1zM350 313h1v2h-1zM561 314h1v1h-1zM351 315h1v1h-1zM560 315h1v2h-1zM352 316h1v1h-1zM353 317h1v2h-1zM559 317h1v2h-1zM354 319h1v1h-1zM558 319h1v1h-1zM355 320h1v1h-1zM557 320h1v2h-1zM356 321h1v2h-1zM556 322h1v2h-1zM357 323h1v1h-1zM358 324h1v1h-1zM555 324h1v2h-1zM359 325h1v2h-1zM554 326h1v1h-1zM360 327h1v1h-1zM553 327h1v2h-1zM361 328h1v1h-1zM552 329h1v1h-1zM362 329h1v2h-1zM551 330h1v2h-1zM363 331h1v1h-1zM550 332h1v1h-1zM364 332h1v2h-1zM549 333h1v2h-1zM365 334h1v1h-1zM366 335h1v1h-1zM548 335h1v1h-1zM367 336h1v2h-1zM547 336h1v2h-1zM368 338h1v1h-1zM546 338h1v1h-1zM369 339h1v1h-1zM545 339h1v2h-1zM370 340h1v2h-1zM544 341h1v1h-1zM371 342h1v1h-1zM543 342h1v2h-1zM372 343h1v2h-1zM542 344h1v1h-1zM373 345h1v1h-1zM541 345h1v2h-1zM374 346h1v1h-1zM540 347h1v1h-1zM375 347h1v2h-1zM539 348h1v2h-1zM376 349h1v1h-1zM377 350h1v1h-1zM538 350h1v1h-1zM537 351h1v1h-1zM378 351h1v2h-1zM536 352h1v1h-1zM379 353h1v1h-1zM535 353h1v1h-1zM380 354h2v1h-2zM534 354h1v1h-1zM382 355h1v1h-1zM533 355h1v2h-1zM383 356h1v1h-1zM532 357h1v1h-1zM384 357h1v2h-1zM531 358h1v1h-1zM385 359h1v1h-1zM530 359h1v1h-1zM529 360h1v1h-1zM386 360h1v2h-1zM528 361h1v1h-1zM387 362h1v1h-1zM527 362h1v1h-1zM388 363h1v1h-1zM526 363h1v1h-1zM525 364h1v1h-1zM389 364h1v2h-1zM524 365h1v1h-1zM390 366h1v1h-1zM523 366h1v1h-1zM522 367h1v1h-1zM391 367h1v2h-1zM521 368h1v1h-1zM392 369h1v1h-1zM520 369h1v1h-1zM393 370h1v1h-1zM519 370h1v1h-1zM518 371h1v1h-1zM394 371h1v2h-1zM517 372h1v1h-1zM395 373h1v1h-1zM516 373h1v1h-1zM396 374h1v2h-1zM515 374h1v2h-1zM397 376h1v1h-1zM514 376h1v1h-1zM398 377h1v1h-1zM513 377h1v1h-1zM512 378h1v1h-1zM399 378h1v2h-1zM511 379h1v1h-1zM400 380h1v1h-1zM510 380h1v1h-1zM401 381h1v1h-1zM509 381h1v1h-1zM402 382h1v1h-1zM508 382h1v1h-1zM507 383h1v1h-1zM403 383h1v2h-1zM506 384h1v1h-1zM404 385h1v1h-1zM505 385h1v1h-1zM405 386h1v1h-1zM504 386h1v1h-1zM406 387h1v1h-1zM503 387h1v1h-1zM407 388h1v1h-1zM502 388h1v1h-1zM408 389h1v1h-1zM501 389h1v1h-1zM499 390h2v1h-2zM409 390h1v2h-1zM498 391h1v1h-1zM410 392h1v1h-1zM497 392h1v1h-1zM411 393h1v1h-1zM496 393h1v1h-1zM412 394h1v1h-1zM494 394h2v1h-2zM493 395h1v1h-1zM413 395h1v2h-1zM492 396h1v1h-1zM414 397h1v1h-1zM490 397h2v1h-2zM415 398h1v1h-1zM489 398h1v1h-1zM416 399h1v1h-1zM487 399h2v1h-2zM417 400h1v1h-1zM486 400h1v1h-1zM484 401h2v1h-2zM418 401h1v2h-1zM483 402h1v1h-1zM419 403h1v1h-1zM481 403h2v1h-2zM420 404h1v1h-1zM479 404h2v1h-2zM421 405h1v1h-1zM477 405h2v1h-2zM422 406h1v1h-1zM476 406h1v1h-1zM423 407h1v1h-1zM475 407h1v1h-1zM424 408h2v1h-2zM473 408h2v1h-2zM426 409h1v1h-1zM471 409h2v1h-2zM427 410h1v1h-1zM469 410h2v1h-2zM428 411h1v1h-1zM467 411h2v1h-2zM429 412h2v1h-2zM464 412h3v1h-3zM431 413h1v1h-1zM462 413h2v1h-2zM432 414h2v1h-2zM460 414h2v1h-2zM434 415h1v1h-1zM457 415h3v1h-3zM435 416h2v1h-2zM455 416h2v1h-2zM437 417h2v1h-2zM453 417h2v1h-2zM439 418h4v1h-4zM449 418h4v1h-4zM443 419h6v1h-6z"/>
<rect x="4" y="525" width="3" height="1" fill="#c0c0c0"/>
<rect x="12" y="526" width="3" height="2" fill="#c0c0c0"/>
<rect x="16" y="526" width="3" height="4" fill="#c0c0c0"/>
<rect x="20" y="526" width="3" height="5" fill="#c0c0c0"/>
<rect x="24" y="526" width="3" height="6" fill="#c0c0c0"/>
<rect x="28" y="526" width="3" height="8" fill="#c0c0c0"/>
<rect x="32" y="526" width="3" height="8" fill="#c0c0c0"/>
<rect x="36" y="526" width="3" height="7" fill="#c0c0c0"/>
<rect x="40" y="526" width="3" height="6" fill="#c0c0c0"/>
<rect x="44" y="526" width="3" height="9" fill="#c0c0c0"/>
<rect x="48" y="526" width="3" height="11" fill="#c0c0c0"/>
<rect x="52" y="526" width="3" height="12" fill="#c0c0c0"/>
<rect x="56" y="526" width="3" height="13" fill="#c0c0c0"/>
<rect x="60" y="526" width="3" height="15" fill="#c0c0c0"/>
<rect x="64" y="526" width="3" height="18" fill="#c0c0c0"/>
<rect x="68" y="526" width="3" height="16" fill="#c0c0c0"/>
<rect x="72" y="526" width="3" height="13" fill="#c0c0c0"/>
<rect x="76" y="526" width="3" height="12" fill="#c0c0c0"/>
<rect x="80" y="526" width="3" height="12" fill="#c0c0c0"/>
<rect x="84" y="526" width="3" height="11" fill="#c0c0c0"/>
<rect x="88" y="526" width="3" height="10" fill="#c0c0c0"/>
<rect x="92" y="526" width="3" height="9" fill="#c0c0c0"/>
<rect x="96" y="526" width="3" height="8" fill="#c0c0c0"/>
<rect x="100" y="526" width="3" height="7" fill="#c0c0c0"/>
<rect x="104" y="526" width="3" height="6" fill="#c0c0c0"/>
<rect x="108" y="526" width="3" height="6" fill="#c0c0c0"/>
<rect x="112" y="526" width="3" height="8" fill="#c0c0c0"/>
<rect x="116" y="526" width="3" height="11" fill="#c0c0c0"/>
<rect x="120" y="526" width="3" height="15" fill="#c0c0c0"/>
<rect x="124" y="526" width="3" height="16" fill="#c0c0c0"/>
<rect x="128" y="526" width="3" height="18" fill="#c0c0c0"/>
<rect x="132" y="526" width="3" height="20" fill="#c0c0c0"/>
<rect x="136" y="526" width="3" height="21" fill="#c0c0c0"/>
<rect x="140" y="526" width="3" height="20" fill="#c0c0c0"/>
<rect x="144" y="526" width="3" height="20" fill="#c0c0c0"/>
<rect x="148" y="526" width="3" height="18" fill="#c0c0c0"/>
<rect x="152" y="526" width="3" height="16" fill="#c0c0c0"/>
<rect x="156" y="526" width="3" height="14" fill="#c0c0c0"/>
<rect x="160" y="526" width="3" height="11" fill="#c0c0c0"/>
<rect x="164" y="526" width="3" height="9" fill="#c0c0c0"/>
<rect x="168" y="526" width="3" height="7" fill="#c0c0c0"/>
<rect x="172" y="526" width="3" height="4" fill="#c0c0c0"/>
<rect x="176" y="526" width="3" height="3" fill="#c0c0c0"/>
<rect x="180" y="526" width="3" height="3" fill="#c0c0c0"/>
<rect x="184" y="526" width="3" height="3" fill="#c0c0c0"/>
<rect x="188" y="526" width="3" height="3" fill="#c0c0c0"/>
<rect x="192" y="526" width="3" height="3" fill="#c0c0c0"/>
<rect x="196" y="526" width="3" height="4" fill="#c0c0c0"/>
<rect x="200" y="526" width="3" height="4" fill="#c0c0c0"/>
<rect x="204" y="526" width="3" height="4" fill="#c0c0c0"/>
<rect x="208" y="526" width="3" height="3" fill="#c0c0c0"/>
<rect x="212" y="526" width="3" height="3" fill="#c0c0c0"/>
<rect x="216" y="526" width="3" height="4" fill="#c0c0c0"/>
<rect x="220" y="526" width="3" height="3" fill="#c0c0c0"/>
<rect x="224" y="526" width="3" height="3" fill="#c0c0c0"/>
<rect x="228" y="526" width="3" height="5" fill="#c0c0c0"/>
<rect x="232" y="526" width="3" height="5" fill="#c0c0c0"/>
<rect x="236" y="526" width="3" height="6" fill="#c0c0c0"/>
<rect x="240" y="526" width="3" height="6" fill="#c0c0c0"/>
<rect x="244" y="526" width="3" height="6" fill="#c0c0c0"/>
<rect x="248" y="526" width="3" height="5" fill="#c0c0c0"/>
<rect x="252" y="526" width="3" height="5" fill="#c0c0c0"/>
<rect x="256" y="526" width="3" height="6" fill="#c0c0c0"/>
<rect x="260" y="526" width="3" height="7" fill="#c0c0c0"/>
<rect x="264" y="526" width="3" height="8" fill="#c0c0c0"/>
<rect x="268" y="526" width="3" height="10" fill="#c0c0c0"/>
<rect x="272" y="526" width="3" height="12" fill="#c0c0c0"/>
<rect x="276" y="526" width="3" height="15" fill="#c0c0c0"/>
<rect x="280" y="526" width="3" height="18" fill="#c0c0c0"/>
<rect x="284" y="526" width="3" height="21" fill="#c0c0c0"/>
<rect x="288" y="526" width="3" height="24" fill="#c0c0c0"/>
<rect x="292" y="526" width="3" height="25" fill="#c0c0c0"/>
<rect x="296" y="526" width="3" height="25" fill="#c0c0c0"/>
<rect x="300" y="526" width="3" height="26" fill="#c0c0c0"/>
<rect x="304" y="526" width="3" height="28" fill="#c0c0c0"/>
<rect x="308" y="526" width="3" height="32" fill="#c0c0c0"/>
<rect x="312" y="526" width="3" height="34" fill="#c0c0c0"/>
<rect x="316" y="526" width="3" height="37" fill="#c0c0c0"/>
<rect x="320" y="526" width="3" height="38" fill="#c0c0c0"/>
<rect x="324" y="526" width="3" height="39" fill="#c0c0c0"/>
<rect x="328" y="526" width="3" height="38" fill="#c0c0c0"/>
<rect x="332" y="526" width="3" height="37" fill="#c0c0c0"/>
<rect x="336" y="526" width="3" height="36" fill="#c0c0c0"/>
<rect x="340" y="526" width="3" height="36" fill="#c0c0c0"/>
<rect x="344" y="526" width="3" height="36" fill="#c0c0c0"/>
<rect x="348" y="526" width="3" height="36" fill="#c0c0c0"/>
<rect x="352" y="526" width="3" height="35" fill="#c0c0c0"/>
<rect x="356" y="526" width="3" height="34" fill="#c0c0c0"/>
<rect x="360" y="526" width="3" height="33" fill="#c0c0c0"/>
<rect x="364" y="526" width="3" height="31" fill="#c0c0c0"/>
<rect x="368" y="526" width="3" height="30" fill="#c0c0c0"/>
<rect x="372" y="526" width="3" height="27" fill="#c0c0c0"/>
<rect x="376" y="526" width="3" height="26" fill="#c0c0c0"/>
<rect x="380" y="526" width="3" height="24" fill="#c0c0c0"/>
<rect x="384" y="526" width="3" height="23" fill="#c0c0c0"/>
<rect x="388" y="526" width="3" height="22" fill="#c0c0c0"/>
<rect x="392" y="526" width="3" height="22" fill="#c0c0c0"/>
<rect x="396" y="526" width="3" height="21" fill="#c0c0c0"/>
<rect x="400" y="526" width="3" height="18" fill="#c0c0c0"/>
<rect x="404" y="526" width="3" height="17" fill="#c0c0c0"/>
<rect x="408" y="526" width="3" height="16" fill="#c0c0c0"/>
<rect x="412" y="526" width="3" height="15" fill="#c0c0c0"/>
<rect x="416" y="526" width="3" height="14" fill="#c0c0c0"/>
<rect x="420" y="526" width="3" height="12" fill="#c0c0c0"/>
<rect x="424" y="526" width="3" height="11" fill="#c0c0c0"/>
<rect x="428" y="526" width="3" height="8" fill="#c0c0c0"/>
<rect x="432" y="526" width="3" height="6" fill="#c0c0c0"/>
<rect x="436" y="526" width="3" height="5" fill="#c0c0c0"/>
<rect x="440" y="526" width="3" height="2" fill="#c0c0c0"/>
<rect x="444" y="525" width="3" height="1" fill="#c0c0c0"/>
<rect x="448" y="519" width="3" height="7" fill="#c0c0c0"/>
<rect x="452" y="512" width="3" height="14" fill="#c0c0c0"/>
<rect x="456" y="507" width="3" height="19" fill="#c0c0c0"/>
<rect x="460" y="505" width="3" height="21" fill="#c0c0c0"/>
<rect x="464" y="503" width="3" height="23" fill="#c0c0c0"/>
<rect x="468" y="505" width="3" height="21" fill="#c0c0c0"/>
<rect x="472" y="505" width="3" height="21" fill="#c0c0c0"/>
<rect x="476" y="506" width="3" height="20" fill="#c0c0c0"/>
<rect x="480" y="507" width="3" height="19" fill="#c0c0c0"/>
<rect x="484" y="507" width="3" height="19" fill="#c0c0c0"/>
<rect x="488" y="506" width="3" height="20" fill="#c0c0c0"/>
<rect x="492" y="506" width="3" height="20" fill="#c0c0c0"/>
<rect x="496" y="504" width="3" height="22" fill="#c0c0c0"/>
<rect x="500" y="507" width="3" height="19" fill="#c0c0c0"/>
<rect x="504" y="508" width="3" height="18" fill="#c0c0c0"/>
<rect x="508" y="509" width="3" height="17" fill="#c0c0c0"/>
<rect x="512" y="507" width="3" height="19" fill="#c0c0c0"/>
<rect x="516" y="504" width="3" height="22" fill="#c0c0c0"/>
<rect x="520" y="501" width="3" height="25" fill="#c0c0c0"/>
<rect x="524" y="501" width="3" height="25" fill="#c0c0c0"/>
<rect x="528" y="501" width="3" height="25" fill="#c0c0c0"/>
<rect x="532" y="502" width="3" height="24" fill="#c0c0c0"/>
<rect x="536" y="501" width="3" height="25" fill="#c0c0c0"/>
<rect x="540" y="501" width="3" height="25" fill="#c0c0c0"/>
<rect x="544" y="499" width="3" height="27" fill="#c0c0c0"/>
<rect x="548" y="498" width="3" height="28" fill="#c0c0c0"/>
<rect x="552" y="497" width="3" height="29" fill="#c0c0c0"/>
<rect x="556" y="492" width="3" height="34" fill="#c0c0c0"/>
<rect x="560" y="489" width="3" height="37" fill="#c0c0c0"/>
<rect x="564" y="493" width="3" height="33" fill="#c0c0c0"/>
<rect x="568" y="495" width="3" height="31" fill="#c0c0c0"/>
<rect x="572" y="496" width="3" height="30" fill="#c0c0c0"/>
<rect x="576" y="499" width="3" height="27" fill="#c0c0c0"/>
<rect x="580" y="502" width="3" height="24" fill="#c0c0c0"/>
<rect x="584" y="503" width="3" height="23" fill="#c0c0c0"/>
<rect x="588" y="505" width="3" height="21" fill="#c0c0c0"/>
<rect x="592" y="510" width="3" height="16" fill="#c0c0c0"/>
<rect x="596" y="514" width="3" height="12" fill="#c0c0c0"/>
<rect x="600" y="516" width="3" height="10" fill="#c0c0c0"/>
<rect x="604" y="517" width="3" height="9" fill="#c0c0c0"/>
<rect x="608" y="517" width="3" height="9" fill="#c0c0c0"/>
<rect x="612" y="517" width="3" height="9" fill="#c0c0c0"/>
<rect x="616" y="519" width="3" height="7" fill="#c0c0c0"/>
<rect x="620" y="518" width="3" height="8" fill="#c0c0c0"/>
<rect x="624" y="518" width="3" height="8" fill="#c0c0c0"/>
<rect x="628" y="518" width="3" height="8" fill="#c0c0c0"/>
<rect x="632" y="519" width="3" height="7" fill="#c0c0c0"/>
<rect x="636" y="520" width="3" height="6" fill="#c0c0c0"/>
<rect x="640" y="521" width="3" height="5" fill="#c0c0c0"/>
<rect x="644" y="521" width="3" height="5" fill="#c0c0c0"/>
<rect x="648" y="522" width="3" height="4" fill="#c0c0c0"/>
<rect x="652" y="520" width="3" height="6" fill="#c0c0c0"/>
<rect x="656" y="519" width="3" height="7" fill="#c0c0c0"/>
<rect x="660" y="517" width="3" height="9" fill="#c0c0c0"/>
<rect x="664" y="511" width="3" height="15" fill="#c0c0c0"/>
<rect x="668" y="505" width="3" height="21" fill="#c0c0c0"/>
<rect x="672" y="501" width="3" height="25" fill="#c0c0c0"/>
<rect x="676" y="503" width="3" height="23" fill="#c0c0c0"/>
<rect x="680" y="506" width="3" height="20" fill="#c0c0c0"/>
<rect x="684" y="508" width="3" height="18" fill="#c0c0c0"/>
<rect x="688" y="510" width="3" height="16" fill="#c0c0c0"/>
<rect x="692" y="512" width="3" height="14" fill="#c0c0c0"/>
<rect x="696" y="514" width="3" height="12" fill="#c0c0c0"/>
<rect x="700" y="516" width="3" height="10" fill="#c0c0c0"/>
<rect x="704" y="517" width="3" height="9" fill="#c0c0c0"/>
<rect x="708" y="518" width="3" height="8" fill="#c0c0c0"/>
<rect x="712" y="520" width="3" height="6" fill="#c0c0c0"/>
<rect x="716" y="524" width="3" height="2" fill="#c0c0c0"/>
<rect x="720" y="526" width="3" height="1" fill="#c0c0c0"/>
<rect x="724" y="526" width="3" height="3" fill="#c0c0c0"/>
<rect x="728" y="526" width="3" height="1" fill="#c0c0c0"/>
<rect x="732" y="524" width="3" height="2" fill="#c0c0c0"/>
<rect x="736" y="524" width="3" height="2" fill="#c0c0c0"/>
<rect x="740" y="522" width="3" height="4" fill="#c0c0c0"/>
<rect x="744" y="521" width="3" height="5" fill="#c0c0c0"/>
<rect x="748" y="521" width="3" height="5" fill="#c0c0c0"/>
<rect x="752" y="520" width="3" height="6" fill="#c0c0c0"/>
<rect x="756" y="520" width="3" height="6" fill="#c0c0c0"/>
<rect x="760" y="519" width="3" height="7" fill="#c0c0c0"/>
<rect x="764" y="517" width="3" height="9" fill="#c0c0c0"/>
<rect x="768" y="515" width="3" height="11" fill="#c0c0c0"/>
<rect x="772" y="512" width="3" height="14" fill="#c0c0c0"/>
<rect x="776" y="510" width="3" height="16" fill="#c0c0c0"/>
<rect x="780" y="510" width="3" height="16" fill="#c0c0c0"/>
<rect x="784" y="513" width="3" height="13" fill="#c0c0c0"/>
<rect x="788" y="515" width="3" height="11" fill="#c0c0c0"/>
<rect x="792" y="517" width="3" height="9" fill="#c0c0c0"/>
<rect x="796" y="519" width="3" height="7" fill="#c0c0c0"/>
<rect x="800" y="519" width="3" height="7" fill="#c0c0c0"/>
<rect x="804" y="518" width="3" height="8" fill="#c0c0c0"/>
<rect x="808" y="519" width="3" height="7" fill="#c0c0c0"/>
<rect x="812" y="520" width="3" height="6" fill="#c0c0c0"/>
<rect x="816" y="522" width="3" height="4" fill="#c0c0c0"/>
<rect x="824" y="526" width="3" height="2" fill="#c0c0c0"/>
<rect x="828" y="526" width="3" height="4" fill="#c0c0c0"/>
<rect x="832" y="526" width="3" height="6" fill="#c0c0c0"/>
<rect x="836" y="526" width="3" height="10" fill="#c0c0c0"/>
<rect x="840" y="526" width="3" height="14" fill="#c0c0c0"/>
<rect x="844" y="526" width="3" height="16" fill="#c0c0c0"/>
<rect x="848" y="526" width="3" height="18" fill="#c0c0c0"/>
<rect x="852" y="526" width="3" height="20" fill="#c0c0c0"/>
<rect x="856" y="526" width="3" height="23" fill="#c0c0c0"/>
<rect x="860" y="526" width="3" height="25" fill="#c0c0c0"/>
<rect x="864" y="526" width="3" height="26" fill="#c0c0c0"/>
<rect x="868" y="526" width="3" height="26" fill="#c0c0c0"/>
<rect x="872" y="526" width="3" height="28" fill="#c0c0c0"/>
<rect x="876" y="526" width="3" height="29" fill="#c0c0c0"/>
<rect x="880" y="526" width="3" height="29" fill="#c0c0c0"/>
<rect x="884" y="526" width="3" height="28" fill="#c0c0c0"/>
<rect x="888" y="526" width="3" height="26" fill="#c0c0c0"/>
<rect x="892" y="526" width="3" height="25" fill="#c0c0c0"/>
<rect x="896" y="526" width="3" height="24" fill="#c0c0c0"/>
<rect x="900" y="526" width="3" height="24" fill="#c0c0c0"/>
<rect x="904" y="526" width="3" height="23" fill="#c0c0c0"/>
<rect x="908" y="526" width="3" height="21" fill="#c0c0c0"/>
<rect x="912" y="526" width="3" height="20" fill="#c0c0c0"/>
<rect x="916" y="526" width="3" height="18" fill="#c0c0c0"/>
<rect x="920" y="526" width="3" height="16" fill="#c0c0c0"/>
<rect x="924" y="526" width="3" height="14" fill="#c0c0c0"/>
<path fill="#ff0000" d="M573 495h10v1h-10zM567 496h6v1h-6zM583 496h6v1h-6zM564 497h3v1h-3zM589 497h2v1h-2zM560 498h4v1h-4zM591 498h2v1h-2zM556 499h4v1h-4zM593 499h1v1h-1zM552 500h4v1h-4zM594 500h2v1h-2zM548 501h4v1h-4zM596 501h2v1h-2zM545 502h3v1h-3zM598 502h1v1h-1zM541 503h4v1h-4zM599 503h2v1h-2zM527 504h14v1h-14zM601 504h2v1h-2zM490 505h9v1h-9zM522 505h5v1h-5zM603 505h1v1h-1zM483 506h7v1h-7zM499 506h7v1h-7zM515 506h7v1h-7zM604 506h2v1h-2zM481 507h2v1h-2zM506 507h9v1h-9zM606 507h2v1h-2zM479 508h2v1h-2zM608 508h1v1h-1zM690 508h14v1h-14zM477 509h2v1h-2zM609 509h2v1h-2zM685 509h5v1h-5zM704 509h2v1h-2zM475 510h2v1h-2zM611 510h2v1h-2zM683 510h2v1h-2zM706 510h2v1h-2zM474 511h1v1h-1zM613 511h2v1h-2zM681 511h2v1h-2zM708 511h3v1h-3zM472 512h2v1h-2zM615 512h2v1h-2zM679 512h2v1h-2zM711 512h2v1h-2zM470 513h2v1h-2zM617 513h2v1h-2zM676 513h3v1h-3zM713 513h2v1h-2zM469 514h1v1h-1zM619 514h2v1h-2zM674 514h2v1h-2zM715 514h2v1h-2zM786 514h21v1h-21zM468 515h1v1h-1zM621 515h2v1h-2zM671 515h3v1h-3zM717 515h2v1h-2zM781 515h5v1h-5zM807 515h5v1h-5zM467 516h1v1h-1zM623 516h4v1h-4zM669 516h2v1h-2zM719 516h2v1h-2zM778 516h3v1h-3zM812 516h2v1h-2zM466 517h1v1h-1zM627 517h4v1h-4zM667 517h2v1h-2zM721 517h2v1h-2zM776 517h2v1h-2zM814 517h2v1h-2zM465 518h1v1h-1zM631 518h13v1h-13zM665 518h2v1h-2zM723 518h2v1h-2zM774 518h2v1h-2zM816 518h2v1h-2zM463 519h2v1h-2zM644 519h4v1h-4zM663 519h2v1h-2zM725 519h2v1h-2zM770 519h4v1h-4zM818 519h4v1h-4zM462 520h1v1h-1zM648 520h15v1h-15zM727 520h2v1h-2zM766 520h4v1h-4zM822 520h3v1h-3zM461 521h1v1h-1zM729 521h2v1h-2zM762 521h4v1h-4zM825 521h3v1h-3zM460 522h1v1h-1zM731 522h3v1h-3zM759 522h3v1h-3zM828 522h3v1h-3zM5 523h16v1h-16zM459 523h1v1h-1zM734 523h5v1h-5zM756 523h3v1h-3zM831 523h2v1h-2zM21 524h2v1h-2zM458 524h1v1h-1zM739 524h17v1h-17zM833 524h3v1h-3zM23 525h3v1h-3zM457 525h1v1h-1zM836 525h2v1h-2zM26 526h3v1h-3zM456 526h1v1h-1zM838 526h2v1h-2zM29 527h2v1h-2zM454 527h2v1h-2zM840 527h2v1h-2zM31 528h4v1h-4zM207 528h20v1h-20zM453 528h1v1h-1zM842 528h2v1h-2zM35 529h4v1h-4zM199 529h8v1h-8zM227 529h23v1h-23zM452 529h1v1h-1zM844 529h1v1h-1zM39 530h4v1h-4zM192 530h7v1h-7zM250 530h8v1h-8zM451 530h1v1h-1zM845 530h2v1h-2zM43 531h4v1h-4zM189 531h3v1h-3zM258 531h12v1h-12zM449 531h2v1h-2zM847 531h2v1h-2zM47 532h4v1h-4zM186 532h3v1h-3zM270 532h8v1h-8zM447 532h2v1h-2zM849 532h1v1h-1zM51 533h4v1h-4zM111 533h8v1h-8zM182 533h4v1h-4zM278 533h2v1h-2zM445 533h2v1h-2zM850 533h2v1h-2zM55 534h4v1h-4zM107 534h4v1h-4zM119 534h8v1h-8zM179 534h3v1h-3zM280 534h2v1h-2zM443 534h2v1h-2zM852 534h1v1h-1zM59 535h4v1h-4zM104 535h3v1h-3zM127 535h4v1h-4zM176 535h3v1h-3zM282 535h2v1h-2zM440 535h3v1h-3zM853 535h2v1h-2zM63 536h4v1h-4zM100 536h4v1h-4zM131 536h3v1h-3zM174 536h2v1h-2zM284 536h2v1h-2zM438 536h2v1h-2zM855 536h1v1h-1zM67 537h4v1h-4zM96 537h4v1h-4zM134 537h3v1h-3zM172 537h2v1h-2zM286 537h2v1h-2zM436 537h2v1h-2zM856 537h1v1h-1zM71 538h25v1h-25zM137 538h2v1h-2zM170 538h2v1h-2zM288 538h2v1h-2zM433 538h3v1h-3zM857 538h2v1h-2zM139 539h2v1h-2zM168 539h2v1h-2zM290 539h2v1h-2zM431 539h2v1h-2zM859 539h1v1h-1zM141 540h3v1h-3zM166 540h2v1h-2zM292 540h2v1h-2zM428 540h3v1h-3zM860 540h2v1h-2zM144 541h2v1h-2zM164 541h2v1h-2zM294 541h2v1h-2zM425 541h3v1h-3zM862 541h2v1h-2zM146 542h2v1h-2zM162 542h2v1h-2zM296 542h2v1h-2zM421 542h4v1h-4zM864 542h1v1h-1zM148 543h14v1h-14zM298 543h2v1h-2zM418 543h3v1h-3zM865 543h2v1h-2zM300 544h2v1h-2zM415 544h3v1h-3zM867 544h2v1h-2zM302 545h2v1h-2zM412 545h3v1h-3zM869 545h2v1h-2zM304 546h2v1h-2zM408 546h4v1h-4zM871 546h2v1h-2zM923 546h3v1h-3zM306 547h2v1h-2zM405 547h3v1h-3zM873 547h2v1h-2zM919 547h4v1h-4zM308 548h2v1h-2zM402 548h3v1h-3zM875 548h2v1h-2zM915 548h4v1h-4zM310 549h2v1h-2zM398 549h4v1h-4zM877 549h2v1h-2zM911 549h4v1h-4zM312 550h1v1h-1zM394 550h4v1h-4zM879 550h3v1h-3zM908 550h3v1h-3zM313 551h2v1h-2zM390 551h4v1h-4zM882 551h4v1h-4zM904 551h4v1h-4zM315 552h2v1h-2zM387 552h3v1h-3zM886 552h18v1h-18zM317 553h2v1h-2zM385 553h2v1h-2zM319 554h2v1h-2zM382 554h3v1h-3zM321 555h2v1h-2zM379 555h3v1h-3zM323 556h2v1h-2zM377 556h2v1h-2zM325 557h3v1h-3zM374 557h3v1h-3zM328 558h5v1h-5zM371 558h3v1h-3zM333 559h4v1h-4zM367 559h4v1h-4zM337 560h4v1h-4zM364 560h3v1h-3zM341 561h3v1h-3zM359 561h5v1h-5zM344 562h15v1h-15z"/>
<line x1="6" y1="597.5" x2="1167" y2="597.5" stroke="#c0c0c0" stroke-width="1" stroke-dasharray="3,3"/>
<line x1="6" y1="632.5" x2="1167" y2="632.5" stroke="#c0c0c0" stroke-width="1" stroke-dasharray="3,3"/>
<path fill="#1e90ff" d="M557 591h1v1h-1zM558 592h2v1h-2zM556 592h1v2h-1zM560 593h1v1h-1zM669 593h3v1h-3zM453 594h2v1h-2zM555 594h1v1h-1zM668 594h1v1h-1zM672 594h1v1h-1zM561 594h1v3h-1zM673 594h1v3h-1zM452 595h1v1h-1zM455 595h2v1h-2zM666 595h2v1h-2zM554 595h1v2h-1zM451 596h1v1h-1zM457 596h1v1h-1zM665 596h1v1h-1zM450 597h1v1h-1zM458 597h1v1h-1zM552 597h2v1h-2zM664 597h1v2h-1zM562 597h1v4h-1zM674 597h1v4h-1zM521 598h1v1h-1zM548 598h4v1h-4zM449 598h1v2h-1zM459 598h1v2h-1zM519 599h2v1h-2zM545 599h3v1h-3zM773 599h1v1h-1zM522 599h1v2h-1zM663 599h1v2h-1zM460 600h1v1h-1zM517 600h2v1h-2zM544 600h1v1h-1zM772 600h1v1h-1zM774 600h2v1h-2zM448 600h1v3h-1zM461 601h3v1h-3zM515 601h2v1h-2zM523 601h1v1h-1zM542 601h2v1h-2zM771 601h1v1h-1zM776 601h1v1h-1zM662 601h1v2h-1zM563 601h1v4h-1zM675 601h1v4h-1zM464 602h2v1h-2zM513 602h2v1h-2zM540 602h2v1h-2zM770 602h1v1h-1zM777 602h1v1h-1zM524 602h1v2h-1zM492 603h6v1h-6zM537 603h3v1h-3zM768 603h2v1h-2zM466 603h1v2h-1zM512 603h1v2h-1zM661 603h1v2h-1zM778 603h1v2h-1zM447 603h1v4h-1zM489 604h3v1h-3zM525 604h2v1h-2zM536 604h1v1h-1zM660 604h1v1h-1zM765 604h3v1h-3zM498 604h1v2h-1zM488 605h1v1h-1zM527 605h2v1h-2zM534 605h2v1h-2zM657 605h3v1h-3zM764 605h1v1h-1zM779 605h1v1h-1zM467 605h1v2h-1zM511 605h1v2h-1zM564 605h1v4h-1zM676 605h1v4h-1zM441 606h1v1h-1zM473 606h1v1h-1zM487 606h1v1h-1zM499 606h1v1h-1zM529 606h5v1h-5zM656 606h1v1h-1zM763 606h1v2h-1zM780 606h1v2h-1zM442 607h1v1h-1zM472 607h1v1h-1zM474 607h1v1h-1zM486 607h1v1h-1zM440 607h1v2h-1zM468 607h1v2h-1zM500 607h1v2h-1zM510 607h1v2h-1zM655 607h1v2h-1zM446 607h1v3h-1zM470 608h2v1h-2zM475 608h1v1h-1zM484 608h2v1h-2zM569 608h9v1h-9zM733 608h2v1h-2zM762 608h1v1h-1zM781 608h1v1h-1zM805 608h1v1h-1zM443 608h1v2h-1zM432 609h2v1h-2zM469 609h1v1h-1zM476 609h1v1h-1zM480 609h4v1h-4zM501 609h2v1h-2zM509 609h1v1h-1zM567 609h2v1h-2zM578 609h2v1h-2zM585 609h3v1h-3zM654 609h1v1h-1zM732 609h1v1h-1zM735 609h2v1h-2zM761 609h1v1h-1zM804 609h1v1h-1zM439 609h1v2h-1zM565 609h1v2h-1zM677 609h1v2h-1zM782 609h1v2h-1zM806 609h1v2h-1zM177 610h1v1h-1zM429 610h3v1h-3zM434 610h1v1h-1zM444 610h1v1h-1zM477 610h3v1h-3zM503 610h2v1h-2zM507 610h2v1h-2zM566 610h1v1h-1zM580 610h1v1h-1zM583 610h2v1h-2zM588 610h1v1h-1zM621 610h3v1h-3zM628 610h2v1h-2zM653 610h1v1h-1zM731 610h1v1h-1zM737 610h2v1h-2zM745 610h2v1h-2zM753 610h3v1h-3zM759 610h2v1h-2zM803 610h1v1h-1zM445 610h1v2h-1zM589 610h1v2h-1zM161 611h1v1h-1zM176 611h1v1h-1zM178 611h1v1h-1zM205 611h1v1h-1zM505 611h2v1h-2zM581 611h2v1h-2zM609 611h5v1h-5zM624 611h4v1h-4zM630 611h2v1h-2zM652 611h1v1h-1zM678 611h1v1h-1zM689 611h1v1h-1zM730 611h1v1h-1zM739 611h2v1h-2zM743 611h2v1h-2zM747 611h2v1h-2zM751 611h2v1h-2zM756 611h3v1h-3zM802 611h1v1h-1zM807 611h1v1h-1zM428 611h1v2h-1zM435 611h1v2h-1zM438 611h1v2h-1zM620 611h1v2h-1zM783 611h1v2h-1zM73 612h1v1h-1zM160 612h1v1h-1zM162 612h2v1h-2zM174 612h2v1h-2zM204 612h1v1h-1zM206 612h2v1h-2zM608 612h1v1h-1zM614 612h1v1h-1zM632 612h1v1h-1zM651 612h1v1h-1zM679 612h1v1h-1zM687 612h2v1h-2zM690 612h2v1h-2zM729 612h1v1h-1zM741 612h2v1h-2zM749 612h2v1h-2zM801 612h1v1h-1zM179 612h1v2h-1zM249 612h1v2h-1zM590 612h1v2h-1zM808 612h1v2h-1zM72 613h1v1h-1zM74 613h1v1h-1zM93 613h2v1h-2zM164 613h1v1h-1zM168 613h6v1h-6zM208 613h1v1h-1zM248 613h1v1h-1zM436 613h1v1h-1zM606 613h2v1h-2zM619 613h1v1h-1zM633 613h2v1h-2zM650 613h1v1h-1zM680 613h1v1h-1zM684 613h3v1h-3zM692 613h1v1h-1zM705 613h3v1h-3zM800 613h1v1h-1zM159 613h1v2h-1zM203 613h1v2h-1zM427 613h1v2h-1zM437 613h1v2h-1zM615 613h1v2h-1zM728 613h1v2h-1zM784 613h1v2h-1zM71 614h1v1h-1zM75 614h1v1h-1zM95 614h2v1h-2zM165 614h3v1h-3zM180 614h1v1h-1zM209 614h1v1h-1zM247 614h1v1h-1zM605 614h1v1h-1zM635 614h2v1h-2zM640 614h4v1h-4zM648 614h2v1h-2zM681 614h3v1h-3zM693 614h7v1h-7zM703 614h2v1h-2zM708 614h2v1h-2zM788 614h4v1h-4zM809 614h2v1h-2zM92 614h1v2h-1zM250 614h1v2h-1zM591 614h1v2h-1zM618 614h1v2h-1zM799 614h1v2h-1zM37 615h3v1h-3zM70 615h1v1h-1zM76 615h1v1h-1zM97 615h6v1h-6zM158 615h1v1h-1zM181 615h3v1h-3zM193 615h1v1h-1zM202 615h1v1h-1zM210 615h2v1h-2zM221 615h2v1h-2zM246 615h1v1h-1zM603 615h2v1h-2zM616 615h1v1h-1zM637 615h3v1h-3zM644 615h4v1h-4zM700 615h3v1h-3zM710 615h1v1h-1zM785 615h3v1h-3zM792 615h3v1h-3zM811 615h2v1h-2zM426 615h1v2h-1zM727 615h1v2h-1zM5 616h2v1h-2zM36 616h1v1h-1zM40 616h1v1h-1zM77 616h1v1h-1zM103 616h2v1h-2zM156 616h2v1h-2zM184 616h3v1h-3zM192 616h1v1h-1zM194 616h1v1h-1zM201 616h1v1h-1zM212 616h1v1h-1zM220 616h1v1h-1zM223 616h2v1h-2zM245 616h1v1h-1zM600 616h3v1h-3zM617 616h1v1h-1zM711 616h1v1h-1zM795 616h2v1h-2zM798 616h1v1h-1zM813 616h3v1h-3zM921 616h3v1h-3zM41 616h1v2h-1zM69 616h1v2h-1zM91 616h1v2h-1zM251 616h1v2h-1zM592 616h1v2h-1zM7 617h2v1h-2zM78 617h2v1h-2zM105 617h5v1h-5zM153 617h3v1h-3zM187 617h2v1h-2zM190 617h2v1h-2zM200 617h1v1h-1zM213 617h3v1h-3zM218 617h2v1h-2zM225 617h2v1h-2zM233 617h1v1h-1zM244 617h1v1h-1zM417 617h7v1h-7zM597 617h3v1h-3zM712 617h1v1h-1zM797 617h1v1h-1zM816 617h2v1h-2zM924 617h2v1h-2zM35 617h1v2h-1zM195 617h1v2h-1zM401 617h1v2h-1zM425 617h1v2h-1zM726 617h1v2h-1zM920 617h1v2h-1zM9 618h1v1h-1zM80 618h1v1h-1zM84 618h3v1h-3zM151 618h2v1h-2zM189 618h1v1h-1zM199 618h1v1h-1zM216 618h2v1h-2zM227 618h2v1h-2zM231 618h2v1h-2zM234 618h2v1h-2zM243 618h1v1h-1zM402 618h2v1h-2zM416 618h1v1h-1zM424 618h1v1h-1zM595 618h2v1h-2zM713 618h1v1h-1zM818 618h1v1h-1zM829 618h1v1h-1zM42 618h1v2h-1zM90 618h1v2h-1zM110 618h1v2h-1zM252 618h1v2h-1zM593 618h1v2h-1zM68 618h1v4h-1zM10 619h2v1h-2zM21 619h5v1h-5zM34 619h1v1h-1zM81 619h3v1h-3zM87 619h2v1h-2zM149 619h2v1h-2zM196 619h1v1h-1zM198 619h1v1h-1zM229 619h2v1h-2zM236 619h1v1h-1zM242 619h1v1h-1zM260 619h3v1h-3zM404 619h1v1h-1zM594 619h1v1h-1zM714 619h2v1h-2zM828 619h1v1h-1zM830 619h1v1h-1zM909 619h1v1h-1zM400 619h1v2h-1zM415 619h1v2h-1zM725 619h1v2h-1zM819 619h1v2h-1zM919 619h1v2h-1zM12 620h1v1h-1zM19 620h2v1h-2zM26 620h1v1h-1zM33 620h1v1h-1zM89 620h1v1h-1zM111 620h1v1h-1zM148 620h1v1h-1zM197 620h1v1h-1zM237 620h5v1h-5zM253 620h7v1h-7zM263 620h2v1h-2zM405 620h3v1h-3zM716 620h1v1h-1zM910 620h2v1h-2zM43 620h1v2h-1zM827 620h1v2h-1zM831 620h1v2h-1zM908 620h1v2h-1zM13 621h6v1h-6zM32 621h1v1h-1zM141 621h3v1h-3zM146 621h2v1h-2zM265 621h1v1h-1zM408 621h4v1h-4zM414 621h1v1h-1zM717 621h3v1h-3zM723 621h2v1h-2zM820 621h1v1h-1zM912 621h1v1h-1zM27 621h1v2h-1zM112 621h1v2h-1zM918 621h1v2h-1zM399 621h1v3h-1zM31 622h1v1h-1zM144 622h2v1h-2zM412 622h2v1h-2zM720 622h3v1h-3zM821 622h3v1h-3zM826 622h1v1h-1zM832 622h1v1h-1zM913 622h3v1h-3zM44 622h1v2h-1zM140 622h1v2h-1zM266 622h1v2h-1zM907 622h1v2h-1zM67 622h1v4h-1zM28 623h1v1h-1zM30 623h1v1h-1zM49 623h3v1h-3zM113 623h1v1h-1zM373 623h1v1h-1zM824 623h2v1h-2zM833 623h1v1h-1zM916 623h2v1h-2zM29 624h1v1h-1zM47 624h2v1h-2zM52 624h4v1h-4zM114 624h1v1h-1zM267 624h1v1h-1zM374 624h2v1h-2zM381 624h3v1h-3zM834 624h1v1h-1zM897 624h1v1h-1zM45 624h1v2h-1zM139 624h1v2h-1zM372 624h1v2h-1zM398 624h1v2h-1zM906 624h1v2h-1zM46 625h1v1h-1zM56 625h3v1h-3zM115 625h1v1h-1zM376 625h1v1h-1zM379 625h2v1h-2zM384 625h4v1h-4zM835 625h1v1h-1zM885 625h2v1h-2zM895 625h2v1h-2zM898 625h1v1h-1zM268 625h1v2h-1zM59 626h2v1h-2zM116 626h1v1h-1zM125 626h1v1h-1zM133 626h2v1h-2zM371 626h1v1h-1zM377 626h2v1h-2zM388 626h2v1h-2zM836 626h1v1h-1zM887 626h2v1h-2zM892 626h3v1h-3zM899 626h1v1h-1zM905 626h1v1h-1zM138 626h1v2h-1zM397 626h1v2h-1zM884 626h1v2h-1zM66 626h1v4h-1zM61 627h1v1h-1zM117 627h2v1h-2zM124 627h1v1h-1zM126 627h2v1h-2zM132 627h1v1h-1zM135 627h2v1h-2zM269 627h5v1h-5zM390 627h2v1h-2zM837 627h3v1h-3zM889 627h3v1h-3zM900 627h1v1h-1zM903 627h2v1h-2zM370 627h1v2h-1zM62 628h1v1h-1zM119 628h2v1h-2zM122 628h2v1h-2zM128 628h1v1h-1zM130 628h2v1h-2zM137 628h1v1h-1zM274 628h2v1h-2zM297 628h1v1h-1zM365 628h3v1h-3zM392 628h1v1h-1zM395 628h2v1h-2zM840 628h8v1h-8zM852 628h2v1h-2zM883 628h1v1h-1zM901 628h2v1h-2zM63 629h1v1h-1zM121 629h1v1h-1zM129 629h1v1h-1zM276 629h1v1h-1zM298 629h1v1h-1zM364 629h1v1h-1zM368 629h2v1h-2zM393 629h2v1h-2zM848 629h4v1h-4zM854 629h1v1h-1zM296 629h1v2h-1zM882 629h1v2h-1zM64 630h1v1h-1zM277 630h1v1h-1zM299 630h1v1h-1zM357 630h3v1h-3zM362 630h2v1h-2zM861 630h7v1h-7zM65 630h1v2h-1zM855 630h1v2h-1zM278 631h2v1h-2zM295 631h1v1h-1zM300 631h1v1h-1zM329 631h2v1h-2zM349 631h1v1h-1zM356 631h1v1h-1zM360 631h2v1h-2zM860 631h1v1h-1zM868 631h4v1h-4zM881 631h1v1h-1zM280 632h1v1h-1zM301 632h1v1h-1zM331 632h2v1h-2zM348 632h1v1h-1zM350 632h2v1h-2zM355 632h1v1h-1zM856 632h1v1h-1zM858 632h2v1h-2zM872 632h4v1h-4zM879 632h2v1h-2zM294 632h1v2h-1zM328 632h1v2h-1zM281 633h3v1h-3zM302 633h2v1h-2zM333 633h6v1h-6zM352 633h1v1h-1zM354 633h1v1h-1zM857 633h1v1h-1zM876 633h3v1h-3zM347 633h1v2h-1zM284 634h10v1h-10zM304 634h1v1h-1zM327 634h1v1h-1zM339 634h2v1h-2zM353 634h1v1h-1zM305 635h1v1h-1zM341 635h3v1h-3zM346 635h1v1h-1zM326 635h1v2h-1zM306 636h2v1h-2zM344 636h2v1h-2zM308 637h1v1h-1zM324 637h2v1h-2zM309 638h6v1h-6zM321 638h3v1h-3zM315 639h2v1h-2zM319 639h2v1h-2zM317 640h2v1h-2z"/>
<rect x="5" y="120" width="1" height="19" fill="#32cd32"/>
<rect x="4" y="131" width="3" height="4" fill="#32cd32"/>
<rect x="9" y="126" width="1" height="26" fill="#32cd32"/>
<rect x="8" y="132" width="3" height="16" fill="#32cd32"/>
<rect x="13" y="141" width="1" height="31" fill="#32cd32"/>
<rect x="12" y="148" width="3" height="18" fill="#32cd32"/>
<rect x="17" y="152" width="1" height="24" fill="#ff0000"/>
<rect x="16" y="164" width="3" height="2" fill="#ff0000"/>
<rect x="21" y="129" width="1" height="37" fill="#ff0000"/>
<rect x="20" y="155" width="3" height="10" fill="#ff0000"/>
<rect x="21" y="156" width="1" height="8" fill="#ff4500"/>
<rect x="25" y="152" width="1" height="8" fill="#32cd32"/>
<rect x="24" y="155" width="3" height="1" fill="#32cd32"/>
<rect x="29" y="161" width="1" height="24" fill="#32cd32"/>
<rect x="28" y="164" width="3" height="20" fill="#32cd32"/>
<rect x="33" y="158" width="1" height="40" fill="#ff0000"/>
<rect x="32" y="166" width="3" height="18" fill="#ff0000"/>
<rect x="33" y="167" width="1" height="16" fill="#ff4500"/>
<rect x="37" y="136" width="1" height="34" fill="#ff0000"/>
<rect x="36" y="146" width="3" height="20" fill="#ff0000"/>
<rect x="37" y="147" width="1" height="18" fill="#ff4500"/>
<rect x="41" y="139" width="1" height="35" fill="#32cd32"/>
<rect x="40" y="144" width="3" height="5" fill="#32cd32"/>
<rect x="45" y="147" width="1" height="54" fill="#32cd32"/>
<rect x="44" y="148" width="3" height="52" fill="#32cd32"/>
<rect x="49" y="190" width="1" height="16" fill="#ff0000"/>
<rect x="48" y="193" width="3" height="5" fill="#ff0000"/>
<rect x="49" y="194" width="1" height="3" fill="#ff4500"/>
<rect x="53" y="178" width="1" height="34" fill="#ff0000"/>
<rect x="52" y="196" width="3" height="2" fill="#ff0000"/>
<rect x="57" y="181" width="1" height="29" fill="#32cd32"/>
<rect x="56" y="196" width="3" height="8" fill="#32cd32"/>
<rect x="61" y="196" width="1" height="29" fill="#32cd32"/>
<rect x="60" y="203" width="3" height="15" fill="#32cd32"/>
<rect x="65" y="218" width="1" height="45" fill="#32cd32"/>
<rect x="64" y="218" width="3" height="24" fill="#32cd32"/>
<rect x="69" y="164" width="1" height="80" fill="#ff0000"/>
<rect x="68" y="176" width="3" height="66" fill="#ff0000"/>
<rect x="69" y="177" width="1" height="64" fill="#ff4500"/>
<rect x="73" y="144" width="1" height="35" fill="#ff0000"/>
<rect x="72" y="154" width="3" height="22" fill="#ff0000"/>
<rect x="73" y="155" width="1" height="20" fill="#ff4500"/>
<rect x="77" y="142" width="1" height="40" fill="#32cd32"/>
<rect x="76" y="144" width="3" height="34" fill="#32cd32"/>
<rect x="81" y="158" width="1" height="37" fill="#32cd32"/>
<rect x="80" y="178" width="3" height="16" fill="#32cd32"/>
<rect x="85" y="176" width="1" height="31" fill="#ff0000"/>
<rect x="84" y="190" width="3" height="4" fill="#ff0000"/>
<rect x="85" y="191" width="1" height="2" fill="#ff4500"/>
<rect x="89" y="170" width="1" height="32" fill="#32cd32"/>
<rect x="88" y="190" width="3" height="9" fill="#32cd32"/>
<rect x="93" y="141" width="1" height="74" fill="#ff0000"/>
<rect x="92" y="163" width="3" height="37" fill="#ff0000"/>
<rect x="93" y="164" width="1" height="35" fill="#ff4500"/>
<rect x="97" y="160" width="1" height="21" fill="#32cd32"/>
<rect x="96" y="164" width="3" height="10" fill="#32cd32"/>
<rect x="101" y="157" width="1" height="36" fill="#ff0000"/>
<rect x="100" y="174" width="3" height="8" fill="#ff0000"/>
<rect x="101" y="175" width="1" height="6" fill="#ff4500"/>
<rect x="105" y="164" width="1" height="44" fill="#32cd32"/>
<rect x="104" y="174" width="3" height="10" fill="#32cd32"/>
<rect x="109" y="165" width="1" height="33" fill="#32cd32"/>
<rect x="108" y="182" width="3" height="2" fill="#32cd32"/>
<rect x="113" y="174" width="1" height="44" fill="#32cd32"/>
<rect x="112" y="184" width="3" height="34" fill="#32cd32"/>
<rect x="117" y="212" width="1" height="40" fill="#32cd32"/>
<rect x="116" y="218" width="3" height="32" fill="#32cd32"/>
<rect x="121" y="246" width="1" height="20" fill="#32cd32"/>
<rect x="120" y="249" width="3" height="13" fill="#32cd32"/>
<rect x="125" y="242" width="1" height="33" fill="#ff0000"/>
<rect x="124" y="252" width="3" height="6" fill="#ff0000"/>
<rect x="125" y="253" width="1" height="4" fill="#ff4500"/>
<rect x="129" y="248" width="1" height="24" fill="#32cd32"/>
<rect x="128" y="252" width="3" height="19" fill="#32cd32"/>
<rect x="133" y="252" width="1" height="26" fill="#ff0000"/>
<rect x="132" y="259" width="3" height="11" fill="#ff0000"/>
<rect x="133" y="260" width="1" height="9" fill="#ff4500"/>
<rect x="137" y="251" width="1" height="59" fill="#32cd32"/>
<rect x="136" y="258" width="3" height="20" fill="#32cd32"/>
<rect x="141" y="226" width="1" height="58" fill="#ff0000"/>
<rect x="140" y="244" width="3" height="34" fill="#ff0000"/>
<rect x="141" y="245" width="1" height="32" fill="#ff4500"/>
<rect x="145" y="242" width="1" height="14" fill="#32cd32"/>
<rect x="144" y="243" width="3" height="8" fill="#32cd32"/>
<rect x="149" y="230" width="1" height="31" fill="#ff0000"/>
<rect x="148" y="234" width="3" height="3" fill="#ff0000"/>
<rect x="149" y="235" width="1" height="1" fill="#ff4500"/>
<rect x="153" y="205" width="1" height="41" fill="#ff0000"/>
<rect x="152" y="226" width="3" height="10" fill="#ff0000"/>
<rect x="153" y="227" width="1" height="8" fill="#ff4500"/>
<rect x="157" y="199" width="1" height="38" fill="#ff0000"/>
<rect x="156" y="224" width="3" height="3" fill="#ff0000"/>
<rect x="157" y="225" width="1" height="1" fill="#ff4500"/>
<rect x="161" y="190" width="1" height="38" fill="#ff0000"/>
<rect x="160" y="196" width="3" height="29" fill="#ff0000"/>
<rect x="161" y="197" width="1" height="27" fill="#ff4500"/>
<rect x="165" y="192" width="1" height="28" fill="#32cd32"/>
<rect x="164" y="197" width="3" height="16" fill="#32cd32"/>
<rect x="169" y="199" width="1" height="16" fill="#ff0000"/>
<rect x="168" y="206" width="3" height="7" fill="#ff0000"/>
<rect x="169" y="207" width="1" height="5" fill="#ff4500"/>
<rect x="173" y="190" width="1" height="23" fill="#ff0000"/>
<rect x="172" y="206" width="3" height="6" fill="#ff0000"/>
<rect x="173" y="207" width="1" height="4" fill="#ff4500"/>
<rect x="177" y="181" width="1" height="31" fill="#ff0000"/>
<rect x="176" y="191" width="3" height="16" fill="#ff0000"/>
<rect x="177" y="192" width="1" height="14" fill="#ff4500"/>
<rect x="181" y="183" width="1" height="47" fill="#32cd32"/>
<rect x="180" y="190" width="3" height="25" fill="#32cd32"/>
<rect x="185" y="202" width="1" height="21" fill="#32cd32"/>
<rect x="184" y="215" width="3" height="1" fill="#32cd32"/>
<rect x="189" y="216" width="1" height="14" fill="#32cd32"/>
<rect x="188" y="216" width="3" height="13" fill="#32cd32"/>
<rect x="193" y="215" width="1" height="8" fill="#ff0000"/>
<rect x="192" y="216" width="3" height="3" fill="#ff0000"/>
<rect x="193" y="217" width="1" height="1" fill="#ff4500"/>
<rect x="197" y="205" width="1" height="43" fill="#32cd32"/>
<rect x="196" y="216" width="3" height="27" fill="#32cd32"/>
<rect x="201" y="214" width="1" height="30" fill="#ff0000"/>
<rect x="200" y="229" width="3" height="14" fill="#ff0000"/>
<rect x="201" y="230" width="1" height="12" fill="#ff4500"/>
<rect x="205" y="187" width="1" height="43" fill="#ff0000"/>
<rect x="204" y="196" width="3" height="33" fill="#ff0000"/>
<rect x="205" y="197" width="1" height="31" fill="#ff4500"/>
<rect x="209" y="188" width="1" height="27" fill="#32cd32"/>
<rect x="208" y="196" width="3" height="18" fill="#32cd32"/>
<rect x="213" y="198" width="1" height="32" fill="#32cd32"/>
<rect x="212" y="213" width="3" height="17" fill="#32cd32"/>
<rect x="217" y="228" width="1" height="9" fill="#32cd32"/>
<rect x="216" y="229" width="3" height="7" fill="#32cd32"/>
<rect x="221" y="215" width="1" height="21" fill="#ff0000"/>
<rect x="220" y="222" width="3" height="12" fill="#ff0000"/>
<rect x="221" y="223" width="1" height="10" fill="#ff4500"/>
<rect x="225" y="190" width="1" height="41" fill="#32cd32"/>
<rect x="224" y="222" width="3" height="8" fill="#32cd32"/>
<rect x="229" y="213" width="1" height="30" fill="#32cd32"/>
<rect x="228" y="229" width="3" height="13" fill="#32cd32"/>
<rect x="233" y="221" width="1" height="38" fill="#ff0000"/>
<rect x="232" y="230" width="3" height="12" fill="#ff0000"/>
<rect x="233" y="231" width="1" height="10" fill="#ff4500"/>
<rect x="237" y="220" width="1" height="31" fill="#32cd32"/>
<rect x="236" y="230" width="3" height="18" fill="#32cd32"/>
<rect x="241" y="244" width="1" height="7" fill="#ff0000"/>
<rect x="240" y="247" width="3" height="2" fill="#ff0000"/>
<rect x="245" y="231" width="1" height="31" fill="#ff0000"/>
<rect x="244" y="232" width="3" height="10" fill="#ff0000"/>
<rect x="245" y="233" width="1" height="8" fill="#ff4500"/>
<rect x="249" y="208" width="1" height="50" fill="#ff0000"/>
<rect x="248" y="214" width="3" height="18" fill="#ff0000"/>
<rect x="249" y="215" width="1" height="16" fill="#ff4500"/>
<rect x="253" y="178" width="1" height="88" fill="#32cd32"/>
<rect x="252" y="214" width="3" height="42" fill="#32cd32"/>
<rect x="257" y="232" width="1" height="29" fill="#ff0000"/>
<rect x="256" y="252" width="3" height="4" fill="#ff0000"/>
<rect x="257" y="253" width="1" height="2" fill="#ff4500"/>
<rect x="261" y="243" width="1" height="19" fill="#ff0000"/>
<rect x="260" y="250" width="3" height="3" fill="#ff0000"/>
<rect x="261" y="251" width="1" height="1" fill="#ff4500"/>
<rect x="265" y="244" width="1" height="18" fill="#32cd32"/>
<rect x="264" y="250" width="3" height="10" fill="#32cd32"/>
<rect x="269" y="252" width="1" height="49" fill="#32cd32"/>
<rect x="268" y="255" width="3" height="40" fill="#32cd32"/>
<rect x="273" y="284" width="1" height="15" fill="#32cd32"/>
<rect x="272" y="294" width="3" height="1" fill="#32cd32"/>
<rect x="277" y="285" width="1" height="31" fill="#32cd32"/>
<rect x="276" y="294" width="3" height="20" fill="#32cd32"/>
<rect x="281" y="312" width="1" height="36" fill="#32cd32"/>
<rect x="280" y="313" width="3" height="28" fill="#32cd32"/>
<rect x="285" y="328" width="1" height="26" fill="#32cd32"/>
<rect x="284" y="340" width="3" height="3" fill="#32cd32"/>
<rect x="289" y="340" width="1" height="10" fill="#32cd32"/>
<rect x="288" y="342" width="3" height="5" fill="#32cd32"/>
<rect x="293" y="330" width="1" height="24" fill="#32cd32"/>
<rect x="292" y="345" width="3" height="5" fill="#32cd32"/>
<rect x="297" y="315" width="1" height="39" fill="#ff0000"/>
<rect x="296" y="329" width="3" height="21" fill="#ff0000"/>
<rect x="297" y="330" width="1" height="19" fill="#ff4500"/>
<rect x="301" y="328" width="1" height="33" fill="#32cd32"/>
<rect x="300" y="329" width="3" height="27" fill="#32cd32"/>
<rect x="305" y="344" width="1" height="49" fill="#32cd32"/>
<rect x="304" y="355" width="3" height="31" fill="#32cd32"/>
<rect x="309" y="385" width="1" height="33" fill="#32cd32"/>
<rect x="308" y="386" width="3" height="26" fill="#32cd32"/>
<rect x="313" y="402" width="1" height="11" fill="#ff0000"/>
<rect x="312" y="410" width="3" height="3" fill="#ff0000"/>
<rect x="313" y="411" width="1" height="1" fill="#ff4500"/>
<rect x="317" y="415" width="1" height="22" fill="#32cd32"/>
<rect x="316" y="416" width="3" height="20" fill="#32cd32"/>
<rect x="321" y="417" width="1" height="22" fill="#ff0000"/>
<rect x="320" y="432" width="3" height="4" fill="#ff0000"/>
<rect x="321" y="433" width="1" height="2" fill="#ff4500"/>
<rect x="325" y="414" width="1" height="40" fill="#ff0000"/>
<rect x="324" y="427" width="3" height="5" fill="#ff0000"/>
<rect x="325" y="428" width="1" height="3" fill="#ff4500"/>
<rect x="329" y="403" width="1" height="27" fill="#ff0000"/>
<rect x="328" y="407" width="3" height="21" fill="#ff0000"/>
<rect x="329" y="408" width="1" height="19" fill="#ff4500"/>
<rect x="333" y="382" width="1" height="56" fill="#32cd32"/>
<rect x="332" y="408" width="3" height="15" fill="#32cd32"/>
<rect x="337" y="417" width="1" height="9" fill="#32cd32"/>
<rect x="336" y="422" width="3" height="2" fill="#32cd32"/>
<rect x="341" y="412" width="1" height="31" fill="#32cd32"/>
<rect x="340" y="420" width="3" height="21" fill="#32cd32"/>
<rect x="345" y="437" width="1" height="32" fill="#32cd32"/>
<rect x="344" y="440" width="3" height="7" fill="#32cd32"/>
<rect x="349" y="418" width="1" height="34" fill="#ff0000"/>
<rect x="348" y="433" width="3" height="14" fill="#ff0000"/>
<rect x="349" y="434" width="1" height="12" fill="#ff4500"/>
<rect x="353" y="408" width="1" height="44" fill="#32cd32"/>
<rect x="352" y="433" width="3" height="18" fill="#32cd32"/>
<rect x="357" y="431" width="1" height="31" fill="#ff0000"/>
<rect x="356" y="441" width="3" height="10" fill="#ff0000"/>
<rect x="357" y="442" width="1" height="8" fill="#ff4500"/>
<rect x="361" y="431" width="1" height="15" fill="#32cd32"/>
<rect x="360" y="441" width="3" height="4" fill="#32cd32"/>
<rect x="365" y="435" width="1" height="17" fill="#ff0000"/>
<rect x="364" y="436" width="3" height="4" fill="#ff0000"/>
<rect x="365" y="437" width="1" height="2" fill="#ff4500"/>
<rect x="369" y="436" width="1" height="26" fill="#32cd32"/>
<rect x="368" y="436" width="3" height="7" fill="#32cd32"/>
<rect x="373" y="418" width="1" height="37" fill="#ff0000"/>
<rect x="372" y="423" width="3" height="19" fill="#ff0000"/>
<rect x="373" y="424" width="1" height="17" fill="#ff4500"/>
<rect x="377" y="410" width="1" height="39" fill="#32cd32"/>
<rect x="376" y="423" width="3" height="17" fill="#32cd32"/>
<rect x="381" y="419" width="1" height="26" fill="#ff0000"/>
<rect x="380" y="434" width="3" height="6" fill="#ff0000"/>
<rect x="381" y="435" width="1" height="4" fill="#ff4500"/>
<rect x="385" y="432" width="1" height="9" fill="#32cd32"/>
<rect x="384" y="434" width="3" height="5" fill="#32cd32"/>
<rect x="389" y="432" width="1" height="15" fill="#32cd32"/>
<rect x="388" y="439" width="3" height="4" fill="#32cd32"/>
<rect x="393" y="441" width="1" height="31" fill="#32cd32"/>
<rect x="392" y="442" width="3" height="18" fill="#32cd32"/>
<rect x="397" y="432" width="1" height="28" fill="#ff0000"/>
<rect x="396" y="452" width="3" height="8" fill="#ff0000"/>
<rect x="397" y="453" width="1" height="6" fill="#ff4500"/>
<rect x="401" y="420" width="1" height="42" fill="#ff0000"/>
<rect x="400" y="421" width="3" height="32" fill="#ff0000"/>
<rect x="401" y="422" width="1" height="30" fill="#ff4500"/>
<rect x="405" y="414" width="1" height="27" fill="#32cd32"/>
<rect x="404" y="421" width="3" height="14" fill="#32cd32"/>
<rect x="409" y="433" width="1" height="9" fill="#32cd32"/>
<rect x="408" y="434" width="3" height="7" fill="#32cd32"/>
<rect x="413" y="426" width="1" height="21" fill="#32cd32"/>
<rect x="412" y="438" width="3" height="8" fill="#32cd32"/>
<rect x="417" y="428" width="1" height="21" fill="#ff0000"/>
<rect x="416" y="428" width="3" height="18" fill="#ff0000"/>
<rect x="417" y="429" width="1" height="16" fill="#ff4500"/>
<rect x="421" y="421" width="1" height="28" fill="#ff0000"/>
<rect x="420" y="428" width="3" height="1" fill="#ff0000"/>
<rect x="425" y="418" width="1" height="25" fill="#32cd32"/>
<rect x="424" y="428" width="3" height="3" fill="#32cd32"/>
<rect x="429" y="400" width="1" height="38" fill="#ff0000"/>
<rect x="428" y="401" width="3" height="30" fill="#ff0000"/>
<rect x="429" y="402" width="1" height="28" fill="#ff4500"/>
<rect x="433" y="394" width="1" height="9" fill="#ff0000"/>
<rect x="432" y="398" width="3" height="4" fill="#ff0000"/>
<rect x="433" y="399" width="1" height="2" fill="#ff4500"/>
<rect x="437" y="396" width="1" height="21" fill="#32cd32"/>
<rect x="436" y="402" width="3" height="13" fill="#32cd32"/>
<rect x="441" y="382" width="1" height="34" fill="#ff0000"/>
<rect x="440" y="382" width="3" height="33" fill="#ff0000"/>
<rect x="441" y="383" width="1" height="31" fill="#ff4500"/>
<rect x="445" y="382" width="1" height="18" fill="#32cd32"/>
<rect x="444" y="382" width="3" height="18" fill="#32cd32"/>
<rect x="449" y="313" width="1" height="91" fill="#ff0000"/>
<rect x="448" y="314" width="3" height="86" fill="#ff0000"/>
<rect x="449" y="315" width="1" height="84" fill="#ff4500"/>
<rect x="453" y="257" width="1" height="63" fill="#ff0000"/>
<rect x="452" y="276" width="3" height="38" fill="#ff0000"/>
<rect x="453" y="277" width="1" height="36" fill="#ff4500"/>
<rect x="457" y="274" width="1" height="12" fill="#32cd32"/>
<rect x="456" y="276" width="3" height="6" fill="#32cd32"/>
<rect x="461" y="254" width="1" height="55" fill="#32cd32"/>
<rect x="460" y="272" width="3" height="35" fill="#32cd32"/>
<rect x="465" y="291" width="1" height="24" fill="#32cd32"/>
<rect x="464" y="306" width="3" height="4" fill="#32cd32"/>
<rect x="469" y="309" width="1" height="52" fill="#32cd32"/>
<rect x="468" y="309" width="3" height="36" fill="#32cd32"/>
<rect x="473" y="320" width="1" height="27" fill="#ff0000"/>
<rect x="472" y="321" width="3" height="24" fill="#ff0000"/>
<rect x="473" y="322" width="1" height="22" fill="#ff4500"/>
<rect x="477" y="320" width="1" height="31" fill="#32cd32"/>
<rect x="476" y="321" width="3" height="20" fill="#32cd32"/>
<rect x="481" y="334" width="1" height="9" fill="#ff0000"/>
<rect x="480" y="335" width="3" height="6" fill="#ff0000"/>
<rect x="481" y="336" width="1" height="4" fill="#ff4500"/>
<rect x="485" y="317" width="1" height="27" fill="#ff0000"/>
<rect x="484" y="327" width="3" height="13" fill="#ff0000"/>
<rect x="485" y="328" width="1" height="11" fill="#ff4500"/>
<rect x="489" y="294" width="1" height="34" fill="#ff0000"/>
<rect x="488" y="303" width="3" height="24" fill="#ff0000"/>
<rect x="489" y="304" width="1" height="22" fill="#ff4500"/>
<rect x="493" y="282" width="1" height="31" fill="#ff0000"/>
<rect x="492" y="291" width="3" height="13" fill="#ff0000"/>
<rect x="493" y="292" width="1" height="11" fill="#ff4500"/>
<rect x="497" y="280" width="1" height="30" fill="#ff0000"/>
<rect x="496" y="290" width="3" height="2" fill="#ff0000"/>
<rect x="501" y="270" width="1" height="50" fill="#32cd32"/>
<rect x="500" y="290" width="3" height="28" fill="#32cd32"/>
<rect x="505" y="314" width="1" height="20" fill="#32cd32"/>
<rect x="504" y="317" width="3" height="14" fill="#32cd32"/>
<rect x="509" y="306" width="1" height="21" fill="#ff0000"/>
<rect x="508" y="324" width="3" height="2" fill="#ff0000"/>
<rect x="513" y="250" width="1" height="88" fill="#ff0000"/>
<rect x="512" y="263" width="3" height="62" fill="#ff0000"/>
<rect x="513" y="264" width="1" height="60" fill="#ff4500"/>
<rect x="517" y="239" width="1" height="44" fill="#ff0000"/>
<rect x="516" y="244" width="3" height="21" fill="#ff0000"/>
<rect x="517" y="245" width="1" height="19" fill="#ff4500"/>
<rect x="521" y="207" width="1" height="65" fill="#ff0000"/>
<rect x="520" y="232" width="3" height="13" fill="#ff0000"/>
<rect x="521" y="233" width="1" height="11" fill="#ff4500"/>
<rect x="525" y="222" width="1" height="42" fill="#32cd32"/>
<rect x="524" y="232" width="3" height="27" fill="#32cd32"/>
<rect x="529" y="255" width="1" height="15" fill="#32cd32"/>
<rect x="528" y="258" width="3" height="11" fill="#32cd32"/>
<rect x="533" y="241" width="1" height="32" fill="#ff0000"/>
<rect x="532" y="268" width="3" height="2" fill="#ff0000"/>
<rect x="537" y="230" width="1" height="45" fill="#ff0000"/>
<rect x="536" y="243" width="3" height="26" fill="#ff0000"/>
<rect x="537" y="244" width="1" height="24" fill="#ff4500"/>
<rect x="541" y="236" width="1" height="47" fill="#ff0000"/>
<rect x="540" y="237" width="3" height="7" fill="#ff0000"/>
<rect x="541" y="238" width="1" height="5" fill="#ff4500"/>
<rect x="545" y="209" width="1" height="42" fill="#ff0000"/>
<rect x="544" y="211" width="3" height="27" fill="#ff0000"/>
<rect x="545" y="212" width="1" height="25" fill="#ff4500"/>
<rect x="549" y="196" width="1" height="24" fill="#ff0000"/>
<rect x="548" y="208" width="3" height="4" fill="#ff0000"/>
<rect x="549" y="209" width="1" height="2" fill="#ff4500"/>
<rect x="553" y="199" width="1" height="14" fill="#ff0000"/>
<rect x="552" y="200" width="3" height="9" fill="#ff0000"/>
<rect x="553" y="201" width="1" height="7" fill="#ff4500"/>
<rect x="557" y="109" width="1" height="88" fill="#ff0000"/>
<rect x="556" y="133" width="3" height="61" fill="#ff0000"/>
<rect x="557" y="134" width="1" height="59" fill="#ff4500"/>
<rect x="561" y="118" width="1" height="30" fill="#32cd32"/>
<rect x="560" y="134" width="3" height="13" fill="#32cd32"/>
<rect x="565" y="143" width="1" height="93" fill="#32cd32"/>
<rect x="564" y="146" width="3" height="84" fill="#32cd32"/>
<rect x="569" y="205" width="1" height="31" fill="#ff0000"/>
<rect x="568" y="212" width="3" height="18" fill="#ff0000"/>
<rect x="569" y="213" width="1" height="16" fill="#ff4500"/>
<rect x="573" y="199" width="1" height="26" fill="#ff0000"/>
<rect x="572" y="210" width="3" height="3" fill="#ff0000"/>
<rect x="573" y="211" width="1" height="1" fill="#ff4500"/>
<rect x="577" y="210" width="1" height="6" fill="#32cd32"/>
<rect x="576" y="211" width="3" height="3" fill="#32cd32"/>
<rect x="581" y="207" width="1" height="29" fill="#32cd32"/>
<rect x="580" y="215" width="3" height="16" fill="#32cd32"/>
<rect x="585" y="205" width="1" height="26" fill="#ff0000"/>
<rect x="584" y="211" width="3" height="20" fill="#ff0000"/>
<rect x="585" y="212" width="1" height="18" fill="#ff4500"/>
<rect x="589" y="200" width="1" height="24" fill="#32cd32"/>
<rect x="588" y="211" width="3" height="9" fill="#32cd32"/>
<rect x="593" y="201" width="1" height="77" fill="#32cd32"/>
<rect x="592" y="219" width="3" height="57" fill="#32cd32"/>
<rect x="597" y="253" width="1" height="31" fill="#ff0000"/>
<rect x="596" y="263" width="3" height="13" fill="#ff0000"/>
<rect x="597" y="264" width="1" height="11" fill="#ff4500"/>
<rect x="601" y="252" width="1" height="12" fill="#ff0000"/>
<rect x="600" y="257" width="3" height="7" fill="#ff0000"/>
<rect x="601" y="258" width="1" height="5" fill="#ff4500"/>
<rect x="605" y="246" width="1" height="24" fill="#ff0000"/>
<rect x="604" y="247" width="3" height="15" fill="#ff0000"/>
<rect x="605" y="248" width="1" height="13" fill="#ff4500"/>
<rect x="609" y="213" width="1" height="41" fill="#ff0000"/>
<rect x="608" y="225" width="3" height="22" fill="#ff0000"/>
<rect x="609" y="226" width="1" height="20" fill="#ff4500"/>
<rect x="613" y="219" width="1" height="23" fill="#ff0000"/>
<rect x="612" y="223" width="3" height="3" fill="#ff0000"/>
<rect x="613" y="224" width="1" height="1" fill="#ff4500"/>
<rect x="617" y="224" width="1" height="35" fill="#32cd32"/>
<rect x="616" y="224" width="3" height="31" fill="#32cd32"/>
<rect x="621" y="211" width="1" height="44" fill="#ff0000"/>
<rect x="620" y="219" width="3" height="36" fill="#ff0000"/>
<rect x="621" y="220" width="1" height="34" fill="#ff4500"/>
<rect x="625" y="217" width="1" height="9" fill="#32cd32"/>
<rect x="624" y="219" width="3" height="3" fill="#32cd32"/>
<rect x="629" y="208" width="1" height="26" fill="#ff0000"/>
<rect x="628" y="214" width="3" height="2" fill="#ff0000"/>
<rect x="633" y="207" width="1" height="32" fill="#32cd32"/>
<rect x="632" y="215" width="3" height="19" fill="#32cd32"/>
<rect x="637" y="226" width="1" height="27" fill="#32cd32"/>
<rect x="636" y="233" width="3" height="9" fill="#32cd32"/>
<rect x="641" y="236" width="1" height="18" fill="#ff0000"/>
<rect x="640" y="238" width="3" height="4" fill="#ff0000"/>
<rect x="641" y="239" width="1" height="2" fill="#ff4500"/>
<rect x="645" y="233" width="1" height="15" fill="#32cd32"/>
<rect x="644" y="239" width="3" height="4" fill="#32cd32"/>
<rect x="649" y="240" width="1" height="6" fill="#ff0000"/>
<rect x="648" y="240" width="3" height="3" fill="#ff0000"/>
<rect x="649" y="241" width="1" height="1" fill="#ff4500"/>
<rect x="653" y="210" width="1" height="33" fill="#ff0000"/>
<rect x="652" y="216" width="3" height="26" fill="#ff0000"/>
<rect x="653" y="217" width="1" height="24" fill="#ff4500"/>
<rect x="657" y="187" width="1" height="32" fill="#ff0000"/>
<rect x="656" y="192" width="3" height="26" fill="#ff0000"/>
<rect x="657" y="193" width="1" height="24" fill="#ff4500"/>
<rect x="661" y="180" width="1" height="24" fill="#ff0000"/>
<rect x="660" y="185" width="3" height="8" fill="#ff0000"/>
<rect x="661" y="186" width="1" height="6" fill="#ff4500"/>
<rect x="665" y="104" width="1" height="94" fill="#ff0000"/>
<rect x="664" y="115" width="3" height="71" fill="#ff0000"/>
<rect x="665" y="116" width="1" height="69" fill="#ff4500"/>
<rect x="669" y="45" width="1" height="73" fill="#ff0000"/>
<rect x="668" y="89" width="3" height="28" fill="#ff0000"/>
<rect x="669" y="90" width="1" height="26" fill="#ff4500"/>
<rect x="673" y="88" width="1" height="8" fill="#32cd32"/>
<rect x="672" y="88" width="3" height="4" fill="#32cd32"/>
<rect x="677" y="98" width="1" height="77" fill="#32cd32"/>
<rect x="676" y="99" width="3" height="74" fill="#32cd32"/>
<rect x="681" y="171" width="1" height="42" fill="#32cd32"/>
<rect x="680" y="172" width="3" height="25" fill="#32cd32"/>
<rect x="685" y="183" width="1" height="27" fill="#ff0000"/>
<rect x="684" y="192" width="3" height="5" fill="#ff0000"/>
<rect x="685" y="193" width="1" height="3" fill="#ff4500"/>
<rect x="689" y="177" width="1" height="32" fill="#ff0000"/>
<rect x="688" y="178" width="3" height="14" fill="#ff0000"/>
<rect x="689" y="179" width="1" height="12" fill="#ff4500"/>
<rect x="693" y="154" width="1" height="44" fill="#32cd32"/>
<rect x="692" y="178" width="3" height="19" fill="#32cd32"/>
<rect x="697" y="193" width="1" height="7" fill="#ff0000"/>
<rect x="696" y="194" width="3" height="2" fill="#ff0000"/>
<rect x="701" y="187" width="1" height="28" fill="#32cd32"/>
<rect x="700" y="196" width="3" height="5" fill="#32cd32"/>
<rect x="705" y="178" width="1" height="39" fill="#ff0000"/>
<rect x="704" y="189" width="3" height="12" fill="#ff0000"/>
<rect x="705" y="190" width="1" height="10" fill="#ff4500"/>
<rect x="709" y="186" width="1" height="26" fill="#32cd32"/>
<rect x="708" y="189" width="3" height="7" fill="#32cd32"/>
<rect x="713" y="185" width="1" height="40" fill="#32cd32"/>
<rect x="712" y="196" width="3" height="25" fill="#32cd32"/>
<rect x="717" y="218" width="1" height="33" fill="#32cd32"/>
<rect x="716" y="220" width="3" height="18" fill="#32cd32"/>
<rect x="721" y="235" width="1" height="12" fill="#32cd32"/>
<rect x="720" y="237" width="3" height="5" fill="#32cd32"/>
<rect x="725" y="221" width="1" height="17" fill="#ff0000"/>
<rect x="724" y="233" width="3" height="5" fill="#ff0000"/>
<rect x="725" y="234" width="1" height="3" fill="#ff4500"/>
<rect x="729" y="183" width="1" height="57" fill="#ff0000"/>
<rect x="728" y="192" width="3" height="42" fill="#ff0000"/>
<rect x="729" y="193" width="1" height="40" fill="#ff4500"/>
<rect x="733" y="129" width="1" height="66" fill="#ff0000"/>
<rect x="732" y="166" width="3" height="27" fill="#ff0000"/>
<rect x="733" y="167" width="1" height="25" fill="#ff4500"/>
<rect x="737" y="145" width="1" height="38" fill="#32cd32"/>
<rect x="736" y="166" width="3" height="14" fill="#32cd32"/>
<rect x="741" y="170" width="1" height="41" fill="#32cd32"/>
<rect x="740" y="180" width="3" height="8" fill="#32cd32"/>
<rect x="745" y="173" width="1" height="18" fill="#ff0000"/>
<rect x="744" y="176" width="3" height="12" fill="#ff0000"/>
<rect x="745" y="177" width="1" height="10" fill="#ff4500"/>
<rect x="749" y="160" width="1" height="24" fill="#32cd32"/>
<rect x="748" y="164" width="3" height="20" fill="#32cd32"/>
<rect x="753" y="164" width="1" height="39" fill="#ff0000"/>
<rect x="752" y="173" width="3" height="11" fill="#ff0000"/>
<rect x="753" y="174" width="1" height="9" fill="#ff4500"/>
<rect x="757" y="153" width="1" height="35" fill="#32cd32"/>
<rect x="756" y="173" width="3" height="6" fill="#32cd32"/>
<rect x="761" y="158" width="1" height="37" fill="#ff0000"/>
<rect x="760" y="166" width="3" height="13" fill="#ff0000"/>
<rect x="761" y="167" width="1" height="11" fill="#ff4500"/>
<rect x="765" y="129" width="1" height="58" fill="#ff0000"/>
<rect x="764" y="139" width="3" height="27" fill="#ff0000"/>
<rect x="765" y="140" width="1" height="25" fill="#ff4500"/>
<rect x="769" y="131" width="1" height="16" fill="#ff0000"/>
<rect x="768" y="136" width="3" height="4" fill="#ff0000"/>
<rect x="769" y="137" width="1" height="2" fill="#ff4500"/>
<rect x="773" y="69" width="1" height="62" fill="#ff0000"/>
<rect x="772" y="103" width="3" height="26" fill="#ff0000"/>
<rect x="773" y="104" width="1" height="24" fill="#ff4500"/>
<rect x="777" y="90" width="1" height="49" fill="#32cd32"/>
<rect x="776" y="103" width="3" height="14" fill="#32cd32"/>
<rect x="781" y="100" width="1" height="47" fill="#32cd32"/>
<rect x="780" y="117" width="3" height="25" fill="#32cd32"/>
<rect x="785" y="114" width="1" height="74" fill="#32cd32"/>
<rect x="784" y="142" width="3" height="34" fill="#32cd32"/>
<rect x="789" y="144" width="1" height="42" fill="#ff0000"/>
<rect x="788" y="169" width="3" height="7" fill="#ff0000"/>
<rect x="789" y="170" width="1" height="5" fill="#ff4500"/>
<rect x="793" y="169" width="1" height="11" fill="#32cd32"/>
<rect x="792" y="170" width="3" height="6" fill="#32cd32"/>
<rect x="797" y="171" width="1" height="28" fill="#32cd32"/>
<rect x="796" y="178" width="3" height="6" fill="#32cd32"/>
<rect x="801" y="154" width="1" height="52" fill="#ff0000"/>
<rect x="800" y="160" width="3" height="24" fill="#ff0000"/>
<rect x="801" y="161" width="1" height="22" fill="#ff4500"/>
<rect x="805" y="131" width="1" height="41" fill="#ff0000"/>
<rect x="804" y="135" width="3" height="25" fill="#ff0000"/>
<rect x="805" y="136" width="1" height="23" fill="#ff4500"/>
<rect x="809" y="124" width="1" height="66" fill="#32cd32"/>
<rect x="808" y="135" width="3" height="36" fill="#32cd32"/>
<rect x="813" y="140" width="1" height="43" fill="#32cd32"/>
<rect x="812" y="170" width="3" height="7" fill="#32cd32"/>
<rect x="817" y="174" width="1" height="17" fill="#32cd32"/>
<rect x="816" y="176" width="3" height="10" fill="#32cd32"/>
<rect x="821" y="178" width="1" height="45" fill="#32cd32"/>
<rect x="820" y="193" width="3" height="22" fill="#32cd32"/>
<rect x="825" y="189" width="1" height="39" fill="#32cd32"/>
<rect x="824" y="214" width="3" height="7" fill="#32cd32"/>
<rect x="829" y="181" width="1" height="41" fill="#ff0000"/>
<rect x="828" y="196" width="3" height="25" fill="#ff0000"/>
<rect x="829" y="197" width="1" height="23" fill="#ff4500"/>
<rect x="833" y="192" width="1" height="38" fill="#32cd32"/>
<rect x="832" y="196" width="3" height="32" fill="#32cd32"/>
<rect x="837" y="219" width="1" height="52" fill="#32cd32"/>
<rect x="836" y="227" width="3" height="32" fill="#32cd32"/>
<rect x="841" y="251" width="1" height="17" fill="#32cd32"/>
<rect x="840" y="258" width="3" height="9" fill="#32cd32"/>
<rect x="845" y="254" width="1" height="19" fill="#32cd32"/>
<rect x="844" y="258" width="3" height="10" fill="#32cd32"/>
<rect x="849" y="248" width="1" height="28" fill="#32cd32"/>
<rect x="848" y="267" width="3" height="9" fill="#32cd32"/>
<rect x="853" y="257" width="1" height="21" fill="#ff0000"/>
<rect x="852" y="270" width="3" height="6" fill="#ff0000"/>
<rect x="853" y="271" width="1" height="4" fill="#ff4500"/>
<rect x="857" y="270" width="1" height="43" fill="#32cd32"/>
<rect x="856" y="270" width="3" height="41" fill="#32cd32"/>
<rect x="861" y="297" width="1" height="26" fill="#ff0000"/>
<rect x="860" y="298" width="3" height="13" fill="#ff0000"/>
<rect x="861" y="299" width="1" height="11" fill="#ff4500"/>
<rect x="865" y="294" width="1" height="8" fill="#32cd32"/>
<rect x="864" y="299" width="3" height="2" fill="#32cd32"/>
<rect x="869" y="289" width="1" height="27" fill="#32cd32"/>
<rect x="868" y="308" width="3" height="3" fill="#32cd32"/>
<rect x="873" y="300" width="1" height="34" fill="#32cd32"/>
<rect x="872" y="310" width="3" height="5" fill="#32cd32"/>
<rect x="877" y="307" width="1" height="24" fill="#32cd32"/>
<rect x="876" y="314" width="3" height="13" fill="#32cd32"/>
<rect x="881" y="313" width="1" height="31" fill="#ff0000"/>
<rect x="880" y="319" width="3" height="8" fill="#ff0000"/>
<rect x="881" y="320" width="1" height="6" fill="#ff4500"/>
<rect x="885" y="299" width="1" height="31" fill="#ff0000"/>
<rect x="884" y="300" width="3" height="20" fill="#ff0000"/>
<rect x="885" y="301" width="1" height="18" fill="#ff4500"/>
<rect x="889" y="298" width="1" height="13" fill="#32cd32"/>
<rect x="888" y="300" width="3" height="9" fill="#32cd32"/>
<rect x="893" y="298" width="1" height="24" fill="#ff0000"/>
<rect x="892" y="305" width="3" height="3" fill="#ff0000"/>
<rect x="893" y="306" width="1" height="1" fill="#ff4500"/>
<rect x="897" y="293" width="1" height="23" fill="#ff0000"/>
<rect x="896" y="299" width="3" height="6" fill="#ff0000"/>
<rect x="897" y="300" width="1" height="4" fill="#ff4500"/>
<rect x="901" y="279" width="1" height="60" fill="#32cd32"/>
<rect x="900" y="299" width="3" height="22" fill="#32cd32"/>
<rect x="905" y="305" width="1" height="27" fill="#ff0000"/>
<rect x="904" y="316" width="3" height="5" fill="#ff0000"/>
<rect x="905" y="317" width="1" height="3" fill="#ff4500"/>
<rect x="909" y="289" width="1" height="38" fill="#ff0000"/>
<rect x="908" y="293" width="3" height="23" fill="#ff0000"/>
<rect x="909" y="294" width="1" height="21" fill="#ff4500"/>
<rect x="913" y="290" width="1" height="16" fill="#32cd32"/>
<rect x="912" y="293" width="3" height="12" fill="#32cd32"/>
<rect x="917" y="292" width="1" height="24" fill="#32cd32"/>
<rect x="916" y="300" width="3" height="13" fill="#32cd32"/>
<rect x="921" y="282" width="1" height="33" fill="#ff0000"/>
<rect x="920" y="284" width="3" height="29" fill="#ff0000"/>
<rect x="921" y="285" width="1" height="27" fill="#ff4500"/>
<rect x="925" y="283" width="1" height="11" fill="#32cd32"/>
<rect x="924" y="284" width="3" height="6" fill="#32cd32"/>
<rect x="4" y="22" width="1" height="637" fill="#000"/>
<rect x="4" y="22" width="1164" height="1" fill="#000"/>
<rect x="1167" y="22" width="1" height="461" fill="#000"/>
<rect x="4" y="482" width="1164" height="1" fill="#000"/>
<rect x="4" y="484" width="1164" height="1" fill="#000"/>
<rect x="1167" y="484" width="1" height="85" fill="#000"/>
<rect x="4" y="568" width="1164" height="1" fill="#000"/>
<rect x="4" y="570" width="1164" height="1" fill="#000"/>
<rect x="1167" y="570" width="1" height="89" fill="#000"/>
<rect x="4" y="658" width="1164" height="1" fill="#000"/>
</svg>
<div class="ax" style="top:45px">1.29360</div>
<div class="ax" style="top:78px">1.28640</div>
<div class="ax" style="top:111px">1.27900</div>
<div class="ax" style="top:144px">1.27180</div>
<div class="ax" style="top:177px">1.26440</div>
<div class="ax" style="top:210px">1.25720</div>
<div class="ax" style="top:243px">1.24980</div>
<div class="ax" style="top:276px">1.24260</div>
<div class="ax" style="top:309px">1.23520</div>
<div class="ax" style="top:342px">1.22800</div>
<div class="ax" style="top:375px">1.22060</div>
<div class="ax" style="top:408px">1.21340</div>
<div class="ax" style="top:441px">1.20600</div>
<div class="ax" style="top:474px">1.19880</div>
<div class="ax" style="left:1171px;top:486px">0.01135</div>
<div class="ax" style="left:1171px;top:521px">0.00</div>
<div class="ax" style="left:1171px;top:556px">-0.01190</div>
<div class="ax" style="left:1171px;top:572px">100</div>
<div class="ax" style="left:1171px;top:592px">70</div>
<div class="ax" style="left:1171px;top:627px">30</div>
<div class="ax" style="left:1171px;top:646px">0</div>
<div class="lab" style="top:74px;background:#ff0000">1.28700</div>
<div class="lab" style="top:164px;background:#00ff00">1.26700</div>
<div class="lab" style="top:241px;background:#0000ff">1.25003</div>
<div class="lab" style="top:283px;background:#000000">1.24087</div>
<div class="lab" style="top:332px;background:#0000ff">1.23003</div>
<div class="lab" style="top:440px;background:#0000ff">1.20609</div>
<div class="dt" style="left:4px">8 Feb 2021</div>
<div class="dt" style="left:68px">26 Feb 2021</div>
<div class="dt" style="left:132px">17 Mar 2021</div>
<div class="dt" style="left:196px">5 Apr 2021</div>
<div class="dt" style="left:260px">23 Apr 2021</div>
<div class="dt" style="left:324px">12 May 2021</div>
<div class="dt" style="left:388px">31 May 2021</div>
<div class="dt" style="left:452px">18 Jun 2021</div>
<div class="dt" style="left:516px">7 Jul 2021</div>
<div class="dt" style="left:580px">26 Jul 2021</div>
<div class="dt" style="left:644px">13 Aug 2021</div>
<div class="dt" style="left:708px">1 Sep 2021</div>
<div class="dt" style="left:772px">20 Sep 2021</div>
<div class="dt" style="left:836px">8 Oct 2021</div>
<div class="dt" style="left:900px">27 Oct 2021</div>
<svg class="abs" style="left:7px;top:28px" width="10" height="6" viewBox="0 0 10 6"><path d="M1 5h7v-1h-1v-1h-1v-1h-1v-1h-1v1h-1v1h-1v1h-1z" fill="#000" shape-rendering="crispEdges"/></svg>
<div class="t" style="left:20px;top:26px;-webkit-text-stroke:0.25px #000;font-size:10px;letter-spacing:-0.1px">USDCAD,Daily</div><div class="t" style="left:92px;top:26px;-webkit-text-stroke:0.25px #000;font-size:10px;letter-spacing:-0.385px">1.24183 1.24220 1.23979 1.24087</div>
<div class="t" style="left:9px;top:489px;-webkit-text-stroke:0.25px #000;font-size:10px;letter-spacing:-0.34px">MACD(12,26,9) -0.003946 -0.005715</div>
<div class="t" style="left:9px;top:575px;-webkit-text-stroke:0.25px #000;font-size:10px;letter-spacing:-0.36px">RSI(14) 47.2553</div>
<div class="abs" style="left:6px;top:39px;width:223px;height:62px;background:#fff"></div>
<div class="abs" style="left:8px;top:42px;width:52px;height:57px;background:linear-gradient(#f95252 0px,#e53a3a 24px,#d42828 30px,#a80000 57px)"></div>
<div class="abs" style="left:8px;top:66px;width:109px;height:33px;background:linear-gradient(#f95252 0px,#e53a3a 24px,#d42828 30px,#a80000 57px);background-size:100% 57px;background-position:0 -24px"></div>
<div class="abs" style="left:175px;top:42px;width:52px;height:57px;background:linear-gradient(#f95252 0px,#e53a3a 24px,#d42828 30px,#a80000 57px)"></div>
<div class="abs" style="left:119px;top:66px;width:108px;height:33px;background:linear-gradient(#f95252 0px,#e53a3a 24px,#d42828 30px,#a80000 57px);background-size:100% 57px;background-position:0 -24px"></div>
<div class="abs" style="left:12px;top:65px;width:44px;height:1px;background:#a01010"></div>
<div class="abs" style="left:12px;top:66px;width:44px;height:1px;background:#f08080"></div>
<div class="abs" style="left:179px;top:65px;width:44px;height:1px;background:#a01010"></div>
<div class="abs" style="left:179px;top:66px;width:44px;height:1px;background:#f08080"></div>
<div class="abs" style="left:62px;top:42px;width:111px;height:22px;background:#fff;border:1px solid #a5acb5"></div>
<div class="abs" style="left:63px;top:43px;width:20px;height:20px;background:linear-gradient(#f2f2f2 0,#ebebeb 45%,#d8d8d8 50%,#cfcfcf 100%);border-right:1px solid #a5acb5"></div>
<div class="abs" style="left:152px;top:43px;width:20px;height:20px;background:linear-gradient(#f2f2f2 0,#ebebeb 45%,#d8d8d8 50%,#cfcfcf 100%);border-left:1px solid #a5acb5"></div>
<div class="abs" style="left:70px;top:51px;width:0;height:0;border-left:3px solid transparent;border-right:3px solid transparent;border-top:4px solid #4a5cb8"></div>
<div class="abs" style="left:158px;top:50px;width:0;height:0;border-left:3px solid transparent;border-right:3px solid transparent;border-bottom:4px solid #4a5cb8"></div>
<div class="t" style="left:124px;top:47px;font-size:12px">3.00</div>
<div class="t" style="left:20px;top:47px;font-size:12px;color:#fff;transform:scaleX(0.9);transform-origin:0 0">SELL</div>
<div class="t" style="left:188px;top:47px;font-size:12px;color:#fff">BUY</div>
<div class="t" style="left:28px;top:84px;font-size:12px;color:#fff;font-weight:bold">1.24</div>
<div class="t" style="left:138px;top:84px;font-size:12px;color:#fff;font-weight:bold">1.24</div>
<div class="t" style="left:55px;top:65px;font-size:36px;color:#fff;transform:scaleX(0.92);transform-origin:0 0">09</div>
<div class="t" style="left:166px;top:65px;font-size:36px;color:#fff;transform:scaleX(0.92);transform-origin:0 0">10</div>
<div class="t" style="left:95px;top:67px;font-size:12px;color:#fff;font-weight:bold">0</div>
<div class="t" style="left:206px;top:67px;font-size:12px;color:#fff;font-weight:bold">8</div>
<div class="abs" style="left:0;top:679px;width:1206px;height:2px;background:#e3e3e3"></div>
<div class="abs" style="left:0;top:682px;width:1206px;height:23px;background:#f0f0f0"></div>
<div class="abs" style="left:0;top:701px;width:1206px;height:1px;background:#fafafa"></div>
<div class="abs" style="left:0;top:681px;width:1206px;height:1px;background:#000"></div>
<div class="abs" style="left:0;top:682px;width:2px;height:19px;background:linear-gradient(90deg,#a0a0a0 0,#a0a0a0 50%,#6e6e6e 50%)"></div>
<div class="abs" style="left:302px;top:681px;width:104px;height:19px;background:#fff;border:1px solid #000;border-top:none"></div>
<div class="tab" style="left:18px">EURUSD,Daily</div>
<div class="tab" style="left:121px">AUDUSD,Daily</div>
<div class="tab" style="left:224px">USDCHF,H4</div>
<div class="tab" style="left:416px">USDCNH,Daily</div>
<div class="tab" style="left:522px">UKOil,H1</div>
<div class="tab" style="left:596px">DJ30,H1</div>
<div class="tab" style="left:665px">USDX,Weekly</div>
<div class="tab" style="left:764px">XAUUSD,Daily</div>
<div class="tab" style="left:870px">GBPUSD,H1</div>
<div class="tab" style="left:961px">USDX,Weekly</div>
<div class="tab" style="left:313px;color:#000">USDCAD,Daily</div>
<div class="sep" style="left:110px"></div>
<div class="sep" style="left:214px"></div>
<div class="sep" style="left:509px"></div>
<div class="sep" style="left:584px"></div>
<div class="sep" style="left:654px"></div>
<div class="sep" style="left:754px"></div>
<div class="sep" style="left:858px"></div>
<div class="sep" style="left:950px"></div>
<div class="sep" style="left:1050px"></div>
<div class="abs" style="left:1182px;top:686px;width:0;height:0;border-top:4px solid transparent;border-bottom:4px solid transparent;border-right:4px solid #8a8a8a"></div>
<div class="abs" style="left:1202px;top:686px;width:0;height:0;border-top:4px solid transparent;border-bottom:4px solid transparent;border-left:4px solid #8a8a8a"></div>
</body></html>
